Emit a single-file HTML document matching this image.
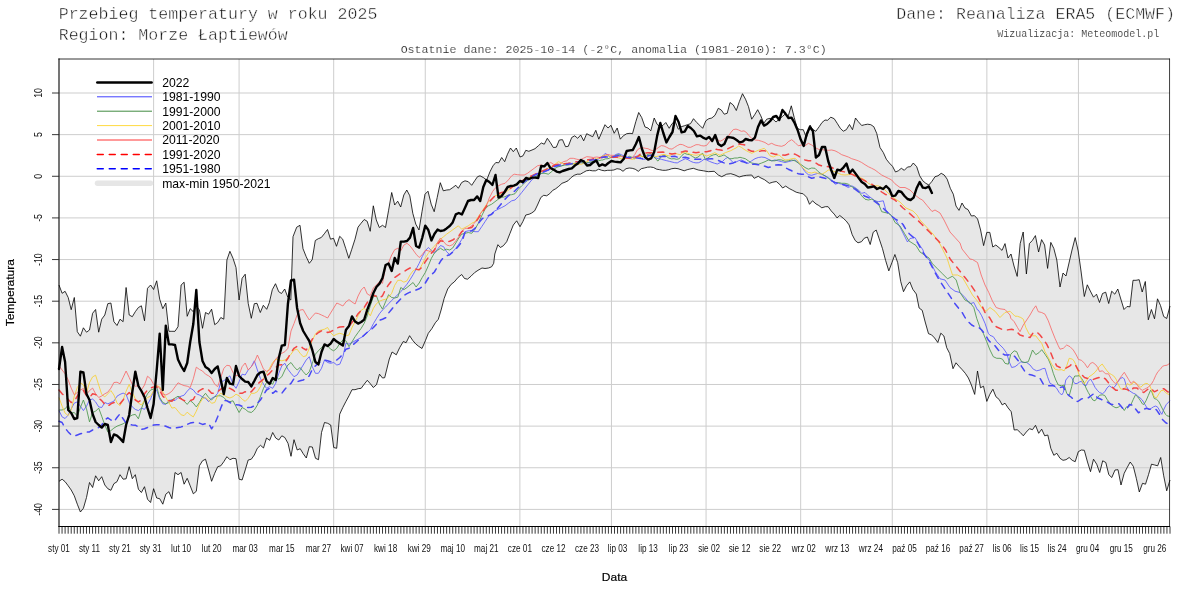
<!DOCTYPE html>
<html><head><meta charset="utf-8"><title>Przebieg temperatury</title>
<style>html,body{margin:0;padding:0;background:#fff;overflow:hidden}svg{font-family:"Liberation Sans",sans-serif}</style></head>
<body>
<svg width="1200" height="600" viewBox="0 0 1200 600" style="display:block;will-change:transform">
<rect width="1200" height="600" fill="#fff"/>
<path d="M59.0 285.0 L62.1 293.3 L65.1 291.3 L68.2 297.5 L71.2 309.7 L74.3 297.5 L77.3 331.7 L80.4 336.2 L83.4 327.8 L86.5 332.2 L89.5 330.0 L92.6 313.3 L95.6 309.5 L98.7 332.2 L101.7 319.2 L104.8 315.0 L107.8 303.7 L110.9 303.0 L113.9 321.7 L117.0 325.5 L120.0 319.2 L123.1 321.7 L126.1 287.5 L129.2 315.0 L132.3 316.7 L135.3 311.7 L138.4 307.5 L141.4 305.8 L144.5 320.8 L147.5 288.3 L150.6 285.0 L153.6 289.5 L156.7 280.8 L159.7 299.2 L162.8 308.7 L165.8 303.0 L168.9 331.3 L171.9 331.3 L175.0 331.3 L178.0 326.7 L181.1 285.0 L184.1 282.2 L187.2 316.3 L190.2 308.7 L193.3 311.7 L196.3 305.8 L199.4 310.0 L202.5 328.3 L205.5 312.5 L208.6 314.2 L211.6 309.2 L214.7 324.7 L217.7 322.5 L220.8 317.5 L223.8 319.2 L226.9 260.0 L229.9 251.3 L233.0 258.3 L236.0 267.5 L239.1 300.0 L242.1 278.3 L245.2 274.2 L248.2 303.3 L251.3 318.3 L254.3 303.7 L257.0 303.3 L260.3 312.5 L263.3 305.3 L266.7 309.3 L269.3 302.7 L272.3 289.7 L275.5 283.7 L278.7 291.7 L281.5 293.5 L284.7 289.0 L287.7 297.0 L290.8 300.0 L293.0 236.7 L296.7 227.2 L300.0 225.3 L303.0 248.7 L306.2 256.7 L309.3 263.3 L312.2 259.7 L315.3 240.5 L318.3 238.7 L321.3 237.5 L324.3 233.8 L327.5 229.5 L330.5 239.2 L333.5 238.3 L336.5 246.3 L339.7 236.3 L342.7 239.2 L345.8 248.7 L348.8 258.3 L351.8 249.2 L355.0 239.2 L358.0 227.2 L361.0 223.3 L364.2 219.5 L367.2 221.3 L370.2 231.3 L373.3 205.8 L376.3 220.0 L379.3 227.5 L382.5 225.3 L385.5 227.5 L388.5 210.8 L391.7 192.5 L394.7 205.0 L397.7 201.2 L400.7 207.0 L403.8 195.0 L406.8 190.0 L409.8 195.8 L412.8 213.3 L415.8 224.2 L419.0 230.0 L422.0 211.7 L425.0 194.2 L428.0 191.2 L431.2 204.2 L434.2 211.7 L437.2 197.5 L440.3 182.7 L443.3 190.8 L446.7 190.0 L449.7 189.7 L452.8 187.5 L455.8 185.3 L458.3 188.3 L461.7 182.5 L465.0 180.8 L468.3 181.7 L471.7 185.3 L474.7 180.8 L477.5 176.7 L480.0 175.8 L483.3 177.5 L486.7 180.0 L490.0 171.7 L493.0 165.8 L495.8 162.5 L498.7 162.8 L501.7 157.5 L504.7 161.7 L507.5 154.2 L510.5 148.0 L513.3 151.7 L516.3 148.0 L520.0 157.0 L523.0 155.8 L525.8 150.3 L528.8 151.3 L532.0 150.0 L535.0 148.7 L538.3 145.8 L541.3 143.0 L544.3 144.2 L547.3 138.3 L550.3 142.5 L553.3 147.5 L556.3 147.2 L559.3 140.0 L562.5 139.7 L565.5 146.7 L568.3 146.3 L571.7 137.5 L574.7 135.8 L577.7 138.3 L580.7 135.0 L583.7 140.8 L586.7 133.7 L589.7 135.3 L592.7 136.7 L595.8 130.3 L598.8 139.2 L602.0 131.7 L605.0 124.7 L608.0 128.0 L611.0 125.3 L614.2 133.3 L617.2 128.0 L620.3 139.2 L623.3 135.8 L626.7 133.7 L630.0 133.3 L632.5 133.7 L635.8 121.7 L638.7 112.5 L641.7 117.5 L645.0 127.0 L648.0 128.0 L650.8 130.8 L654.2 118.0 L657.0 124.2 L660.0 127.0 L663.0 125.3 L665.8 122.5 L669.2 128.3 L672.0 123.7 L675.0 120.8 L678.3 129.2 L681.3 126.7 L684.3 125.8 L687.5 124.7 L690.5 123.7 L693.5 118.7 L696.7 122.5 L699.7 125.3 L702.7 128.3 L705.8 120.8 L708.8 118.7 L711.8 118.0 L715.0 115.3 L718.3 108.3 L721.3 110.0 L724.2 114.2 L727.2 113.3 L730.0 102.5 L733.3 105.0 L736.3 110.5 L739.3 101.7 L742.5 93.7 L745.5 99.2 L748.5 106.7 L751.7 119.2 L754.7 114.7 L757.7 109.7 L760.8 115.8 L763.8 123.3 L766.7 119.2 L770.0 118.3 L773.0 119.2 L776.0 122.0 L779.2 119.2 L782.2 116.7 L785.0 114.2 L788.3 115.8 L791.3 105.8 L794.2 117.5 L797.2 128.3 L800.3 129.7 L803.3 129.7 L806.3 137.5 L809.5 128.3 L810.0 125.0 L812.5 129.2 L815.8 131.3 L819.2 126.7 L822.0 122.5 L825.0 120.0 L827.5 120.3 L830.8 117.2 L834.2 118.7 L837.2 123.3 L840.3 128.3 L843.3 131.2 L846.3 129.7 L849.5 124.5 L852.5 129.7 L855.5 118.0 L858.3 121.7 L861.7 125.5 L864.7 124.7 L867.7 124.2 L870.8 124.7 L873.8 126.7 L876.7 133.3 L880.0 147.5 L883.3 152.5 L886.3 159.2 L889.3 163.0 L892.5 166.3 L895.5 172.0 L898.3 170.8 L901.3 168.3 L904.3 170.3 L907.5 167.0 L910.5 166.7 L913.3 163.0 L916.7 166.7 L919.7 175.8 L922.8 180.8 L925.8 183.3 L928.8 185.0 L931.7 181.7 L935.0 176.7 L938.0 175.8 L941.2 173.3 L944.2 175.0 L947.2 179.2 L950.3 188.3 L953.3 194.2 L956.0 206.0 L959.0 210.4 L962.0 203.0 L965.0 208.0 L968.0 209.6 L971.4 216.0 L974.4 215.6 L977.6 219.0 L980.6 230.0 L983.6 245.6 L986.8 232.4 L989.8 232.4 L992.8 247.0 L995.8 245.0 L999.0 247.6 L1002.0 250.4 L1005.0 243.6 L1008.0 258.0 L1011.0 254.0 L1014.0 266.0 L1017.2 276.4 L1020.2 243.6 L1023.2 232.0 L1026.4 274.0 L1029.4 243.6 L1032.4 240.4 L1035.4 235.6 L1038.6 252.0 L1041.6 239.6 L1044.6 245.0 L1047.6 268.4 L1050.8 242.4 L1053.8 248.4 L1056.8 260.0 L1060.0 287.0 L1063.0 273.0 L1066.0 276.0 L1069.0 263.0 L1072.0 250.0 L1075.2 237.6 L1078.2 251.0 L1081.0 271.0 L1084.3 296.5 L1087.3 284.8 L1090.3 291.0 L1093.5 297.2 L1096.5 294.2 L1099.5 302.5 L1102.5 293.5 L1105.7 292.2 L1108.7 303.5 L1111.7 291.2 L1114.8 294.2 L1117.8 289.0 L1120.8 299.0 L1124.0 309.5 L1127.0 306.5 L1130.0 306.8 L1133.0 280.3 L1136.0 280.3 L1139.2 279.7 L1142.2 292.0 L1145.3 281.5 L1148.3 319.8 L1151.4 309.5 L1154.5 318.8 L1157.5 298.8 L1160.5 305.5 L1163.7 316.5 L1166.7 318.5 L1170.0 306.0 L1170.0 480.0 L1166.7 490.8 L1163.7 475.8 L1160.7 457.5 L1157.7 465.8 L1154.7 465.0 L1151.5 464.2 L1148.5 474.7 L1145.5 484.2 L1142.5 483.3 L1139.3 492.0 L1136.3 478.3 L1133.3 466.3 L1130.2 462.0 L1127.2 467.5 L1124.2 473.3 L1121.0 485.0 L1118.0 469.7 L1115.0 470.0 L1111.8 477.5 L1108.8 474.7 L1105.8 462.5 L1102.7 460.8 L1099.7 472.5 L1096.7 464.2 L1093.5 459.2 L1090.5 471.7 L1087.5 462.0 L1084.3 450.3 L1081.3 450.0 L1078.3 451.7 L1075.2 461.7 L1072.2 460.3 L1069.2 457.5 L1066.0 459.7 L1063.0 460.3 L1060.0 458.3 L1056.8 453.3 L1053.8 455.3 L1050.8 448.3 L1047.8 435.0 L1044.7 435.8 L1041.7 429.2 L1038.7 433.3 L1035.5 425.3 L1032.5 429.7 L1029.5 428.7 L1026.3 432.0 L1023.3 435.8 L1020.3 432.5 L1017.2 429.7 L1014.2 430.0 L1011.2 411.7 L1008.1 407.9 L1005.0 403.2 L1002.2 404.9 L999.2 399.5 L995.9 396.7 L992.9 389.2 L989.8 394.4 L986.8 401.4 L983.5 386.2 L980.5 387.8 L977.5 371.0 L974.7 394.4 L971.4 385.0 L968.4 378.0 L965.3 373.3 L962.3 369.8 L959.0 366.3 L956.0 362.8 L953.0 368.7 L949.7 353.5 L946.7 347.7 L943.9 336.0 L940.8 333.2 L937.8 342.5 L934.5 337.9 L931.5 334.8 L928.5 333.7 L925.2 322.0 L922.2 310.3 L919.1 308.0 L916.3 294.0 L912.8 289.3 L909.8 281.9 L906.5 285.8 L903.5 291.7 L900.7 281.4 L897.7 262.7 L894.9 254.5 L891.9 262.7 L888.8 270.9 L885.6 260.4 L882.5 248.7 L879.0 238.2 L876.2 230.0 L873.2 232.3 L870.2 244.5 L867.4 237.0 L864.3 238.2 L861.5 241.7 L858.0 242.8 L855.2 240.5 L852.2 234.7 L849.1 224.9 L846.3 221.1 L843.3 218.3 L839.8 215.5 L837.0 217.9 L834.2 214.1 L831.2 210.9 L828.1 206.7 L825.3 206.7 L821.8 207.8 L818.8 205.5 L816.0 203.9 L812.5 200.8 L809.5 204.3 L806.7 197.3 L803.2 193.8 L799.7 193.1 L796.2 192.2 L792.7 190.3 L789.2 188.5 L785.7 186.1 L782.6 188.0 L779.8 184.5 L776.3 181.5 L772.8 182.2 L769.3 183.3 L764.7 179.8 L760.0 177.5 L758.3 176.3 L754.2 178.3 L751.7 175.0 L746.7 175.3 L743.3 175.8 L739.2 177.0 L735.0 175.0 L730.8 173.7 L726.7 174.2 L721.7 176.7 L718.3 175.0 L714.2 171.3 L708.3 171.7 L703.3 170.8 L698.3 170.0 L693.3 168.3 L689.2 169.2 L687.2 169.7 L684.2 170.8 L681.0 169.7 L678.0 168.7 L675.0 168.3 L671.8 168.7 L668.8 169.7 L665.8 170.3 L662.7 170.3 L659.7 169.7 L656.7 169.2 L653.5 167.5 L650.5 167.0 L647.5 167.2 L644.3 168.0 L641.3 168.7 L638.3 171.3 L635.2 169.2 L632.2 168.3 L629.2 168.0 L626.0 168.7 L623.0 171.3 L620.0 169.2 L617.0 168.7 L613.8 170.0 L610.8 170.3 L607.7 170.3 L604.7 170.8 L601.7 170.3 L598.7 169.2 L595.5 170.8 L592.5 170.8 L589.5 170.3 L586.3 170.8 L583.3 172.5 L580.3 174.2 L577.2 174.2 L574.2 175.3 L571.2 177.5 L568.0 180.8 L565.0 182.2 L562.0 183.3 L558.8 186.3 L555.8 188.7 L552.8 190.3 L549.7 193.7 L546.7 195.8 L543.7 195.3 L540.8 197.5 L537.5 205.0 L534.7 210.8 L531.7 213.0 L529.2 214.2 L525.8 215.0 L522.8 221.7 L520.0 226.7 L516.7 220.8 L513.3 225.0 L510.0 233.3 L506.7 241.7 L503.3 245.8 L500.3 247.5 L497.9 244.7 L494.8 254.0 L493.7 263.3 L491.6 266.8 L488.5 268.0 L485.0 268.5 L482.0 268.0 L478.0 270.3 L474.5 272.7 L471.0 276.2 L467.5 279.2 L464.5 278.5 L461.7 274.5 L458.2 277.3 L454.2 282.0 L451.2 284.3 L447.7 289.0 L444.2 298.3 L441.1 310.0 L438.3 319.3 L435.3 322.8 L431.8 328.7 L428.3 333.3 L425.5 340.4 L422.0 348.5 L418.5 346.2 L415.7 343.9 L412.7 340.4 L409.6 335.7 L406.1 342.7 L403.3 341.5 L399.8 347.4 L396.3 354.8 L392.1 352.0 L389.3 359.0 L384.7 377.7 L382.5 378.0 L379.5 374.2 L376.5 384.7 L373.3 387.5 L370.3 383.7 L367.3 380.3 L364.2 384.2 L361.2 388.3 L358.2 388.7 L355.0 389.7 L352.0 389.7 L349.0 395.8 L345.8 401.7 L342.8 407.5 L339.7 414.2 L336.7 448.3 L333.7 447.5 L330.7 425.0 L327.7 423.3 L324.5 422.5 L321.5 432.5 L318.5 459.7 L315.5 458.3 L312.3 447.0 L309.3 446.7 L306.3 458.0 L303.2 453.7 L300.2 448.7 L297.2 450.0 L294.0 439.7 L291.0 456.3 L288.0 443.3 L284.8 437.5 L281.8 435.8 L278.8 440.0 L275.7 438.0 L272.7 432.5 L269.7 440.3 L266.5 438.0 L263.5 448.0 L260.5 445.3 L257.3 448.3 L254.3 455.0 L251.3 459.2 L248.2 460.0 L245.2 470.0 L242.1 480.0 L239.1 479.2 L236.0 458.7 L233.0 458.3 L229.9 459.7 L226.9 456.7 L223.8 461.7 L220.8 465.8 L217.7 466.7 L214.7 473.3 L211.6 481.3 L208.6 470.0 L205.5 459.2 L202.5 460.8 L199.4 465.8 L196.3 491.3 L193.3 493.8 L190.2 485.8 L187.2 478.3 L184.1 484.2 L181.1 472.5 L178.0 474.7 L175.0 472.5 L171.9 498.7 L168.9 491.7 L165.8 494.2 L162.8 504.2 L159.7 498.7 L156.7 498.0 L153.6 488.7 L150.6 502.5 L147.5 499.2 L144.5 486.7 L141.4 492.5 L138.4 489.2 L135.3 474.7 L132.3 478.7 L129.2 466.7 L126.1 478.8 L123.1 479.2 L120.0 474.7 L117.0 481.7 L113.9 483.7 L110.9 490.3 L107.8 488.7 L104.8 485.0 L101.7 476.7 L98.7 480.8 L95.6 475.8 L92.6 487.5 L89.5 482.5 L86.5 497.5 L83.4 508.3 L80.4 512.0 L77.3 504.2 L74.3 495.8 L71.2 490.0 L68.2 485.8 L65.1 481.7 L62.1 479.2 L59.0 481.3Z" fill="#e7e7e7" stroke="none"/>
<path d="M153.62 59.0 V526.5 M239.08 59.0 V526.5 M333.70 59.0 V526.5 M425.26 59.0 V526.5 M519.88 59.0 V526.5 M611.45 59.0 V526.5 M706.07 59.0 V526.5 M800.68 59.0 V526.5 M892.25 59.0 V526.5 M986.87 59.0 V526.5 M1078.43 59.0 V526.5 M59.0 509.40 H1170.0 M59.0 467.76 H1170.0 M59.0 426.12 H1170.0 M59.0 384.48 H1170.0 M59.0 342.84 H1170.0 M59.0 301.20 H1170.0 M59.0 259.56 H1170.0 M59.0 217.92 H1170.0 M59.0 176.28 H1170.0 M59.0 134.64 H1170.0 M59.0 93.00 H1170.0" stroke="#cdcdcd" stroke-width="1" fill="none"/>
<path d="M59.0 285.0 L62.1 293.3 L65.1 291.3 L68.2 297.5 L71.2 309.7 L74.3 297.5 L77.3 331.7 L80.4 336.2 L83.4 327.8 L86.5 332.2 L89.5 330.0 L92.6 313.3 L95.6 309.5 L98.7 332.2 L101.7 319.2 L104.8 315.0 L107.8 303.7 L110.9 303.0 L113.9 321.7 L117.0 325.5 L120.0 319.2 L123.1 321.7 L126.1 287.5 L129.2 315.0 L132.3 316.7 L135.3 311.7 L138.4 307.5 L141.4 305.8 L144.5 320.8 L147.5 288.3 L150.6 285.0 L153.6 289.5 L156.7 280.8 L159.7 299.2 L162.8 308.7 L165.8 303.0 L168.9 331.3 L171.9 331.3 L175.0 331.3 L178.0 326.7 L181.1 285.0 L184.1 282.2 L187.2 316.3 L190.2 308.7 L193.3 311.7 L196.3 305.8 L199.4 310.0 L202.5 328.3 L205.5 312.5 L208.6 314.2 L211.6 309.2 L214.7 324.7 L217.7 322.5 L220.8 317.5 L223.8 319.2 L226.9 260.0 L229.9 251.3 L233.0 258.3 L236.0 267.5 L239.1 300.0 L242.1 278.3 L245.2 274.2 L248.2 303.3 L251.3 318.3 L254.3 303.7 L257.0 303.3 L260.3 312.5 L263.3 305.3 L266.7 309.3 L269.3 302.7 L272.3 289.7 L275.5 283.7 L278.7 291.7 L281.5 293.5 L284.7 289.0 L287.7 297.0 L290.8 300.0 L293.0 236.7 L296.7 227.2 L300.0 225.3 L303.0 248.7 L306.2 256.7 L309.3 263.3 L312.2 259.7 L315.3 240.5 L318.3 238.7 L321.3 237.5 L324.3 233.8 L327.5 229.5 L330.5 239.2 L333.5 238.3 L336.5 246.3 L339.7 236.3 L342.7 239.2 L345.8 248.7 L348.8 258.3 L351.8 249.2 L355.0 239.2 L358.0 227.2 L361.0 223.3 L364.2 219.5 L367.2 221.3 L370.2 231.3 L373.3 205.8 L376.3 220.0 L379.3 227.5 L382.5 225.3 L385.5 227.5 L388.5 210.8 L391.7 192.5 L394.7 205.0 L397.7 201.2 L400.7 207.0 L403.8 195.0 L406.8 190.0 L409.8 195.8 L412.8 213.3 L415.8 224.2 L419.0 230.0 L422.0 211.7 L425.0 194.2 L428.0 191.2 L431.2 204.2 L434.2 211.7 L437.2 197.5 L440.3 182.7 L443.3 190.8 L446.7 190.0 L449.7 189.7 L452.8 187.5 L455.8 185.3 L458.3 188.3 L461.7 182.5 L465.0 180.8 L468.3 181.7 L471.7 185.3 L474.7 180.8 L477.5 176.7 L480.0 175.8 L483.3 177.5 L486.7 180.0 L490.0 171.7 L493.0 165.8 L495.8 162.5 L498.7 162.8 L501.7 157.5 L504.7 161.7 L507.5 154.2 L510.5 148.0 L513.3 151.7 L516.3 148.0 L520.0 157.0 L523.0 155.8 L525.8 150.3 L528.8 151.3 L532.0 150.0 L535.0 148.7 L538.3 145.8 L541.3 143.0 L544.3 144.2 L547.3 138.3 L550.3 142.5 L553.3 147.5 L556.3 147.2 L559.3 140.0 L562.5 139.7 L565.5 146.7 L568.3 146.3 L571.7 137.5 L574.7 135.8 L577.7 138.3 L580.7 135.0 L583.7 140.8 L586.7 133.7 L589.7 135.3 L592.7 136.7 L595.8 130.3 L598.8 139.2 L602.0 131.7 L605.0 124.7 L608.0 128.0 L611.0 125.3 L614.2 133.3 L617.2 128.0 L620.3 139.2 L623.3 135.8 L626.7 133.7 L630.0 133.3 L632.5 133.7 L635.8 121.7 L638.7 112.5 L641.7 117.5 L645.0 127.0 L648.0 128.0 L650.8 130.8 L654.2 118.0 L657.0 124.2 L660.0 127.0 L663.0 125.3 L665.8 122.5 L669.2 128.3 L672.0 123.7 L675.0 120.8 L678.3 129.2 L681.3 126.7 L684.3 125.8 L687.5 124.7 L690.5 123.7 L693.5 118.7 L696.7 122.5 L699.7 125.3 L702.7 128.3 L705.8 120.8 L708.8 118.7 L711.8 118.0 L715.0 115.3 L718.3 108.3 L721.3 110.0 L724.2 114.2 L727.2 113.3 L730.0 102.5 L733.3 105.0 L736.3 110.5 L739.3 101.7 L742.5 93.7 L745.5 99.2 L748.5 106.7 L751.7 119.2 L754.7 114.7 L757.7 109.7 L760.8 115.8 L763.8 123.3 L766.7 119.2 L770.0 118.3 L773.0 119.2 L776.0 122.0 L779.2 119.2 L782.2 116.7 L785.0 114.2 L788.3 115.8 L791.3 105.8 L794.2 117.5 L797.2 128.3 L800.3 129.7 L803.3 129.7 L806.3 137.5 L809.5 128.3 L810.0 125.0 L812.5 129.2 L815.8 131.3 L819.2 126.7 L822.0 122.5 L825.0 120.0 L827.5 120.3 L830.8 117.2 L834.2 118.7 L837.2 123.3 L840.3 128.3 L843.3 131.2 L846.3 129.7 L849.5 124.5 L852.5 129.7 L855.5 118.0 L858.3 121.7 L861.7 125.5 L864.7 124.7 L867.7 124.2 L870.8 124.7 L873.8 126.7 L876.7 133.3 L880.0 147.5 L883.3 152.5 L886.3 159.2 L889.3 163.0 L892.5 166.3 L895.5 172.0 L898.3 170.8 L901.3 168.3 L904.3 170.3 L907.5 167.0 L910.5 166.7 L913.3 163.0 L916.7 166.7 L919.7 175.8 L922.8 180.8 L925.8 183.3 L928.8 185.0 L931.7 181.7 L935.0 176.7 L938.0 175.8 L941.2 173.3 L944.2 175.0 L947.2 179.2 L950.3 188.3 L953.3 194.2 L956.0 206.0 L959.0 210.4 L962.0 203.0 L965.0 208.0 L968.0 209.6 L971.4 216.0 L974.4 215.6 L977.6 219.0 L980.6 230.0 L983.6 245.6 L986.8 232.4 L989.8 232.4 L992.8 247.0 L995.8 245.0 L999.0 247.6 L1002.0 250.4 L1005.0 243.6 L1008.0 258.0 L1011.0 254.0 L1014.0 266.0 L1017.2 276.4 L1020.2 243.6 L1023.2 232.0 L1026.4 274.0 L1029.4 243.6 L1032.4 240.4 L1035.4 235.6 L1038.6 252.0 L1041.6 239.6 L1044.6 245.0 L1047.6 268.4 L1050.8 242.4 L1053.8 248.4 L1056.8 260.0 L1060.0 287.0 L1063.0 273.0 L1066.0 276.0 L1069.0 263.0 L1072.0 250.0 L1075.2 237.6 L1078.2 251.0 L1081.0 271.0 L1084.3 296.5 L1087.3 284.8 L1090.3 291.0 L1093.5 297.2 L1096.5 294.2 L1099.5 302.5 L1102.5 293.5 L1105.7 292.2 L1108.7 303.5 L1111.7 291.2 L1114.8 294.2 L1117.8 289.0 L1120.8 299.0 L1124.0 309.5 L1127.0 306.5 L1130.0 306.8 L1133.0 280.3 L1136.0 280.3 L1139.2 279.7 L1142.2 292.0 L1145.3 281.5 L1148.3 319.8 L1151.4 309.5 L1154.5 318.8 L1157.5 298.8 L1160.5 305.5 L1163.7 316.5 L1166.7 318.5 L1170.0 306.0" fill="none" stroke="#000" stroke-width="0.8" stroke-linejoin="round"/>
<path d="M59.0 481.3 L62.1 479.2 L65.1 481.7 L68.2 485.8 L71.2 490.0 L74.3 495.8 L77.3 504.2 L80.4 512.0 L83.4 508.3 L86.5 497.5 L89.5 482.5 L92.6 487.5 L95.6 475.8 L98.7 480.8 L101.7 476.7 L104.8 485.0 L107.8 488.7 L110.9 490.3 L113.9 483.7 L117.0 481.7 L120.0 474.7 L123.1 479.2 L126.1 478.8 L129.2 466.7 L132.3 478.7 L135.3 474.7 L138.4 489.2 L141.4 492.5 L144.5 486.7 L147.5 499.2 L150.6 502.5 L153.6 488.7 L156.7 498.0 L159.7 498.7 L162.8 504.2 L165.8 494.2 L168.9 491.7 L171.9 498.7 L175.0 472.5 L178.0 474.7 L181.1 472.5 L184.1 484.2 L187.2 478.3 L190.2 485.8 L193.3 493.8 L196.3 491.3 L199.4 465.8 L202.5 460.8 L205.5 459.2 L208.6 470.0 L211.6 481.3 L214.7 473.3 L217.7 466.7 L220.8 465.8 L223.8 461.7 L226.9 456.7 L229.9 459.7 L233.0 458.3 L236.0 458.7 L239.1 479.2 L242.1 480.0 L245.2 470.0 L248.2 460.0 L251.3 459.2 L254.3 455.0 L257.3 448.3 L260.5 445.3 L263.5 448.0 L266.5 438.0 L269.7 440.3 L272.7 432.5 L275.7 438.0 L278.8 440.0 L281.8 435.8 L284.8 437.5 L288.0 443.3 L291.0 456.3 L294.0 439.7 L297.2 450.0 L300.2 448.7 L303.2 453.7 L306.3 458.0 L309.3 446.7 L312.3 447.0 L315.5 458.3 L318.5 459.7 L321.5 432.5 L324.5 422.5 L327.7 423.3 L330.7 425.0 L333.7 447.5 L336.7 448.3 L339.7 414.2 L342.8 407.5 L345.8 401.7 L349.0 395.8 L352.0 389.7 L355.0 389.7 L358.2 388.7 L361.2 388.3 L364.2 384.2 L367.3 380.3 L370.3 383.7 L373.3 387.5 L376.5 384.7 L379.5 374.2 L382.5 378.0 L384.7 377.7 L389.3 359.0 L392.1 352.0 L396.3 354.8 L399.8 347.4 L403.3 341.5 L406.1 342.7 L409.6 335.7 L412.7 340.4 L415.7 343.9 L418.5 346.2 L422.0 348.5 L425.5 340.4 L428.3 333.3 L431.8 328.7 L435.3 322.8 L438.3 319.3 L441.1 310.0 L444.2 298.3 L447.7 289.0 L451.2 284.3 L454.2 282.0 L458.2 277.3 L461.7 274.5 L464.5 278.5 L467.5 279.2 L471.0 276.2 L474.5 272.7 L478.0 270.3 L482.0 268.0 L485.0 268.5 L488.5 268.0 L491.6 266.8 L493.7 263.3 L494.8 254.0 L497.9 244.7 L500.3 247.5 L503.3 245.8 L506.7 241.7 L510.0 233.3 L513.3 225.0 L516.7 220.8 L520.0 226.7 L522.8 221.7 L525.8 215.0 L529.2 214.2 L531.7 213.0 L534.7 210.8 L537.5 205.0 L540.8 197.5 L543.7 195.3 L546.7 195.8 L549.7 193.7 L552.8 190.3 L555.8 188.7 L558.8 186.3 L562.0 183.3 L565.0 182.2 L568.0 180.8 L571.2 177.5 L574.2 175.3 L577.2 174.2 L580.3 174.2 L583.3 172.5 L586.3 170.8 L589.5 170.3 L592.5 170.8 L595.5 170.8 L598.7 169.2 L601.7 170.3 L604.7 170.8 L607.7 170.3 L610.8 170.3 L613.8 170.0 L617.0 168.7 L620.0 169.2 L623.0 171.3 L626.0 168.7 L629.2 168.0 L632.2 168.3 L635.2 169.2 L638.3 171.3 L641.3 168.7 L644.3 168.0 L647.5 167.2 L650.5 167.0 L653.5 167.5 L656.7 169.2 L659.7 169.7 L662.7 170.3 L665.8 170.3 L668.8 169.7 L671.8 168.7 L675.0 168.3 L678.0 168.7 L681.0 169.7 L684.2 170.8 L687.2 169.7 L689.2 169.2 L693.3 168.3 L698.3 170.0 L703.3 170.8 L708.3 171.7 L714.2 171.3 L718.3 175.0 L721.7 176.7 L726.7 174.2 L730.8 173.7 L735.0 175.0 L739.2 177.0 L743.3 175.8 L746.7 175.3 L751.7 175.0 L754.2 178.3 L758.3 176.3 L760.0 177.5 L764.7 179.8 L769.3 183.3 L772.8 182.2 L776.3 181.5 L779.8 184.5 L782.6 188.0 L785.7 186.1 L789.2 188.5 L792.7 190.3 L796.2 192.2 L799.7 193.1 L803.2 193.8 L806.7 197.3 L809.5 204.3 L812.5 200.8 L816.0 203.9 L818.8 205.5 L821.8 207.8 L825.3 206.7 L828.1 206.7 L831.2 210.9 L834.2 214.1 L837.0 217.9 L839.8 215.5 L843.3 218.3 L846.3 221.1 L849.1 224.9 L852.2 234.7 L855.2 240.5 L858.0 242.8 L861.5 241.7 L864.3 238.2 L867.4 237.0 L870.2 244.5 L873.2 232.3 L876.2 230.0 L879.0 238.2 L882.5 248.7 L885.6 260.4 L888.8 270.9 L891.9 262.7 L894.9 254.5 L897.7 262.7 L900.7 281.4 L903.5 291.7 L906.5 285.8 L909.8 281.9 L912.8 289.3 L916.3 294.0 L919.1 308.0 L922.2 310.3 L925.2 322.0 L928.5 333.7 L931.5 334.8 L934.5 337.9 L937.8 342.5 L940.8 333.2 L943.9 336.0 L946.7 347.7 L949.7 353.5 L953.0 368.7 L956.0 362.8 L959.0 366.3 L962.3 369.8 L965.3 373.3 L968.4 378.0 L971.4 385.0 L974.7 394.4 L977.5 371.0 L980.5 387.8 L983.5 386.2 L986.8 401.4 L989.8 394.4 L992.9 389.2 L995.9 396.7 L999.2 399.5 L1002.2 404.9 L1005.0 403.2 L1008.1 407.9 L1011.2 411.7 L1014.2 430.0 L1017.2 429.7 L1020.3 432.5 L1023.3 435.8 L1026.3 432.0 L1029.5 428.7 L1032.5 429.7 L1035.5 425.3 L1038.7 433.3 L1041.7 429.2 L1044.7 435.8 L1047.8 435.0 L1050.8 448.3 L1053.8 455.3 L1056.8 453.3 L1060.0 458.3 L1063.0 460.3 L1066.0 459.7 L1069.2 457.5 L1072.2 460.3 L1075.2 461.7 L1078.3 451.7 L1081.3 450.0 L1084.3 450.3 L1087.5 462.0 L1090.5 471.7 L1093.5 459.2 L1096.7 464.2 L1099.7 472.5 L1102.7 460.8 L1105.8 462.5 L1108.8 474.7 L1111.8 477.5 L1115.0 470.0 L1118.0 469.7 L1121.0 485.0 L1124.2 473.3 L1127.2 467.5 L1130.2 462.0 L1133.3 466.3 L1136.3 478.3 L1139.3 492.0 L1142.5 483.3 L1145.5 484.2 L1148.5 474.7 L1151.5 464.2 L1154.7 465.0 L1157.7 465.8 L1160.7 457.5 L1163.7 475.8 L1166.7 490.8 L1170.0 480.0" fill="none" stroke="#000" stroke-width="0.8" stroke-linejoin="round"/>
<path d="M59.0 410.6 L62.1 416.9 L65.1 418.5 L68.2 415.0 L71.2 408.8 L74.3 403.1 L77.3 401.9 L80.4 406.2 L83.4 410.6 L86.5 406.2 L89.5 400.0 L92.6 399.0 L95.6 401.9 L98.7 406.9 L101.7 407.5 L104.8 402.5 L107.8 403.8 L110.9 402.5 L113.9 401.2 L117.0 396.2 L120.0 394.4 L123.1 393.1 L126.1 394.4 L129.2 402.5 L132.3 406.9 L135.3 409.4 L138.4 410.6 L141.4 408.1 L144.5 409.4 L147.5 404.4 L150.6 398.8 L153.6 391.2 L156.7 390.0 L159.7 398.8 L162.8 403.8 L165.8 404.4 L168.9 400.6 L171.9 399.8 L175.0 400.6 L178.0 397.5 L181.1 396.2 L184.1 395.2 L187.2 391.2 L190.2 388.1 L193.3 390.0 L196.3 393.8 L199.4 395.0 L202.5 396.9 L205.5 398.3 L208.6 401.7 L211.6 398.3 L214.7 396.7 L217.7 393.3 L220.8 381.7 L223.8 380.8 L226.9 378.3 L229.9 375.8 L233.0 384.2 L236.0 388.3 L239.1 381.7 L242.1 374.2 L245.2 375.0 L248.2 370.0 L251.3 366.7 L254.3 360.8 L257.4 370.0 L260.4 378.3 L263.5 384.2 L266.5 388.3 L269.6 386.7 L272.7 388.3 L275.7 383.3 L278.8 373.3 L281.8 365.8 L284.9 363.3 L287.9 369.2 L291.0 373.3 L294.0 376.7 L297.1 375.0 L300.1 370.0 L303.2 365.0 L306.2 360.0 L309.3 356.7 L312.3 366.7 L315.4 373.3 L318.4 373.3 L321.5 368.3 L324.5 360.0 L327.6 362.5 L330.6 363.3 L333.7 362.5 L336.8 365.0 L339.8 364.2 L342.9 356.7 L345.9 343.3 L349.0 344.2 L364.2 335.8 L367.3 332.5 L370.3 329.7 L373.4 323.7 L376.4 318.7 L379.5 313.7 L382.5 310.0 L385.6 307.0 L388.6 303.7 L391.7 300.5 L394.7 297.5 L397.8 294.7 L400.8 291.7 L403.9 288.0 L407.0 284.2 L410.0 279.7 L413.1 274.7 L416.1 269.2 L419.2 263.3 L422.2 256.7 L425.3 250.8 L428.3 247.5 L431.4 250.5 L434.4 253.0 L437.5 249.2 L440.5 245.5 L443.6 246.7 L446.6 251.7 L449.7 254.7 L452.7 251.7 L455.8 248.3 L458.8 244.2 L461.9 239.2 L465.0 231.7 L468.3 230.8 L471.7 230.8 L475.0 231.7 L478.3 231.7 L481.7 226.7 L485.0 221.7 L488.3 216.7 L491.7 213.3 L495.0 210.8 L498.3 209.2 L501.7 207.5 L505.0 205.8 L508.3 203.3 L511.7 200.8 L515.0 200.0 L518.3 196.7 L521.7 192.5 L525.0 188.3 L528.3 184.2 L531.7 180.0 L535.0 177.5 L538.3 175.0 L541.7 173.3 L545.0 171.7 L548.3 170.0 L551.7 167.5 L555.0 165.8 L558.3 166.7 L561.7 165.8 L565.0 164.2 L568.3 163.3 L571.7 164.2 L575.0 163.3 L578.3 162.5 L581.7 163.0 L585.0 163.7 L588.3 163.0 L591.7 162.0 L595.0 160.8 L598.3 159.2 L601.7 156.7 L602.7 156.0 L605.3 153.3 L608.0 155.3 L610.7 157.3 L613.3 156.0 L616.0 154.4 L618.7 153.6 L621.3 154.7 L624.0 156.0 L626.7 157.3 L629.3 158.0 L632.0 157.6 L634.7 156.7 L637.3 156.0 L640.0 157.3 L642.7 159.3 L645.3 159.3 L648.0 156.0 L650.7 154.9 L653.3 156.7 L656.0 158.0 L658.7 158.7 L661.3 159.3 L664.0 160.0 L666.7 160.7 L669.3 161.3 L672.0 162.0 L674.7 162.7 L677.3 162.9 L680.0 161.3 L682.7 160.0 L685.3 158.7 L688.0 159.7 L690.7 161.3 L693.3 162.4 L696.0 162.9 L698.7 162.7 L701.3 161.3 L704.0 159.3 L706.7 160.0 L709.3 161.3 L712.0 162.4 L714.7 163.3 L717.3 164.0 L720.0 162.7 L722.7 161.3 L725.3 158.7 L728.0 157.3 L730.7 160.0 L733.3 162.7 L736.0 162.0 L738.7 160.7 L741.3 160.0 L744.0 161.1 L746.7 162.7 L748.3 163.3 L751.7 160.8 L755.0 158.7 L758.3 157.5 L761.7 157.0 L765.0 157.5 L768.3 159.2 L771.7 160.8 L775.0 160.0 L778.3 160.8 L781.7 161.7 L785.0 162.5 L788.3 161.7 L791.7 160.8 L795.0 160.0 L798.3 162.5 L801.7 166.7 L805.0 171.7 L808.3 174.7 L811.7 175.3 L815.0 174.2 L818.3 173.3 L821.7 174.2 L825.0 175.8 L828.3 177.5 L831.7 180.0 L835.0 184.2 L838.3 183.3 L841.7 184.2 L845.0 185.8 L848.3 187.5 L851.7 185.8 L855.0 187.5 L858.3 190.0 L861.7 193.3 L865.0 192.5 L868.3 195.8 L871.7 198.3 L875.0 200.8 L878.3 201.7 L883.3 200.8 L885.8 210.0 L888.3 212.5 L891.7 215.8 L895.0 218.8 L900.0 227.0 L903.5 234.0 L907.5 242.0 L910.0 238.5 L915.0 237.5 L917.5 242.0 L923.0 250.0 L924.0 254.0 L930.0 261.2 L935.0 271.2 L940.0 278.8 L945.0 280.0 L950.0 287.5 L955.0 291.2 L960.0 292.5 L965.0 297.5 L970.0 303.8 L973.8 302.5 L977.5 310.0 L978.3 310.0 L981.7 315.8 L985.0 323.3 L988.3 333.3 L990.0 335.3 L993.3 336.7 L996.7 341.7 L1000.0 345.0 L1003.3 348.3 L1006.7 353.3 L1009.2 361.7 L1011.7 367.5 L1015.0 366.7 L1018.3 364.2 L1020.8 361.7 L1023.3 362.5 L1026.7 362.5 L1030.0 365.0 L1033.3 369.2 L1036.7 370.8 L1040.0 370.0 L1042.5 368.7 L1045.0 368.3 L1047.5 376.7 L1050.0 383.3 L1053.3 385.0 L1056.7 388.3 L1059.2 392.5 L1061.7 395.0 L1063.3 392.5 L1065.8 380.0 L1069.2 375.8 L1071.7 377.5 L1073.3 381.3 L1074.8 383.5 L1077.0 383.5 L1079.3 382.0 L1081.5 381.3 L1083.8 385.0 L1086.0 385.8 L1088.3 381.3 L1090.5 379.0 L1092.8 382.8 L1095.0 387.3 L1097.3 390.3 L1099.5 392.5 L1102.5 393.7 L1104.8 391.8 L1107.0 388.0 L1109.3 385.8 L1111.5 387.3 L1113.8 387.7 L1116.0 385.0 L1118.3 381.3 L1120.5 378.3 L1122.8 377.5 L1124.3 379.0 L1126.5 386.5 L1128.8 390.3 L1131.0 391.8 L1133.3 393.3 L1135.5 394.0 L1137.8 396.3 L1140.0 397.8 L1142.3 400.0 L1144.5 403.8 L1146.8 407.5 L1149.0 409.8 L1151.3 408.3 L1153.5 406.8 L1155.8 406.0 L1158.0 407.5 L1160.3 412.0 L1161.8 414.3 L1164.0 409.0 L1166.3 404.5 L1169.9 400.8 L1170.0 400.8" fill="none" stroke="#5858ff" stroke-width="0.85" stroke-linejoin="round"/>
<path d="M59.0 410.0 L62.1 410.0 L65.1 408.8 L68.2 405.0 L71.2 413.1 L74.3 412.5 L77.3 416.2 L80.4 407.5 L83.4 400.0 L86.5 408.8 L89.5 421.9 L92.6 412.5 L95.6 411.2 L98.7 408.1 L101.7 416.2 L104.8 425.0 L107.8 431.9 L110.9 430.6 L113.9 428.1 L117.0 426.2 L120.0 425.0 L123.1 423.8 L126.1 421.9 L129.2 416.9 L132.3 415.0 L135.3 414.4 L138.4 418.8 L141.4 408.8 L144.5 400.0 L147.5 393.8 L150.6 390.0 L153.6 389.0 L156.7 386.9 L159.7 397.5 L162.8 402.5 L165.8 403.8 L168.9 402.5 L171.9 400.0 L175.0 398.1 L178.0 396.2 L181.1 398.1 L184.1 401.2 L187.2 404.4 L190.2 400.6 L193.3 403.1 L196.3 406.9 L199.4 402.5 L202.5 396.9 L205.5 393.3 L208.6 397.5 L211.6 400.0 L214.7 396.7 L217.7 395.8 L220.8 395.8 L223.8 397.5 L226.9 400.8 L229.9 401.7 L233.0 400.8 L236.0 406.7 L239.1 412.5 L242.1 407.5 L245.2 409.2 L248.2 411.7 L251.3 412.5 L254.3 410.0 L257.4 405.0 L260.4 396.7 L263.5 388.3 L266.5 382.5 L269.6 382.5 L272.7 384.2 L275.7 376.7 L278.8 379.2 L281.8 376.7 L284.9 370.0 L287.9 365.0 L291.0 362.5 L294.0 366.7 L297.1 370.0 L300.1 367.5 L303.2 371.7 L306.2 375.0 L309.3 371.7 L312.3 363.3 L315.4 354.2 L318.4 350.8 L321.5 347.5 L324.5 345.0 L327.6 345.8 L330.6 349.2 L333.7 350.8 L336.8 348.3 L339.8 343.3 L342.9 340.0 L345.9 340.8 L349.0 346.7 L355.1 336.7 L358.1 332.5 L361.2 328.3 L364.2 323.3 L367.3 315.8 L370.3 305.8 L373.4 296.7 L376.4 295.8 L379.5 304.2 L382.5 309.2 L385.6 301.7 L388.6 294.7 L391.7 297.5 L394.7 298.0 L397.8 297.2 L400.8 287.5 L403.9 289.7 L407.0 287.5 L410.0 285.0 L413.1 282.5 L416.1 287.0 L419.2 283.0 L422.2 277.5 L425.3 272.5 L428.3 265.8 L431.4 258.3 L434.4 253.0 L437.5 250.3 L440.5 248.3 L443.6 250.3 L446.6 249.2 L449.7 250.0 L452.7 248.0 L455.8 243.0 L458.8 238.0 L461.7 234.2 L465.0 233.3 L468.3 232.5 L471.7 233.3 L475.0 229.2 L478.3 223.3 L481.7 215.8 L485.0 209.2 L488.3 205.8 L491.7 204.2 L495.0 201.7 L498.3 199.2 L501.7 197.5 L505.0 196.7 L508.3 195.0 L511.7 194.7 L515.0 193.7 L518.3 189.2 L521.7 185.8 L525.0 182.5 L528.3 180.0 L531.7 178.3 L535.0 176.7 L538.3 175.0 L541.7 173.3 L545.0 173.3 L548.3 174.2 L551.7 171.7 L555.0 168.3 L558.3 166.7 L561.7 165.8 L565.0 165.0 L568.3 165.0 L571.7 164.2 L575.0 163.3 L578.3 163.0 L581.7 162.5 L585.0 163.3 L588.3 162.5 L591.7 161.7 L595.0 160.8 L598.3 160.8 L601.7 160.0 L602.7 160.0 L605.3 158.9 L608.0 158.7 L610.7 157.6 L613.3 156.7 L616.0 155.3 L618.7 154.4 L621.3 156.0 L624.0 157.3 L626.7 158.0 L629.3 156.3 L632.0 157.3 L634.7 158.7 L637.3 156.7 L640.0 155.3 L642.7 156.7 L645.3 156.0 L648.0 154.4 L650.7 153.3 L653.3 156.0 L656.0 159.3 L658.0 161.1 L660.7 157.3 L663.3 155.3 L666.0 156.0 L668.7 158.0 L671.3 158.9 L674.0 158.7 L676.7 159.3 L679.3 158.7 L682.0 155.3 L684.7 153.3 L687.3 154.4 L690.0 154.7 L692.7 156.7 L695.3 158.0 L698.0 157.1 L700.7 154.7 L702.7 153.3 L705.3 159.3 L708.0 158.0 L710.7 156.0 L713.3 154.9 L716.0 154.4 L718.7 156.7 L721.3 156.0 L724.0 154.9 L726.7 156.7 L729.3 158.7 L732.0 158.7 L734.7 158.0 L737.3 158.0 L740.0 157.3 L742.7 158.0 L745.3 158.7 L748.3 160.8 L751.7 163.0 L755.0 163.7 L758.3 164.2 L761.7 163.0 L765.0 161.7 L768.3 160.0 L771.7 160.8 L775.0 160.8 L778.3 159.7 L781.7 160.0 L785.0 161.3 L788.3 160.8 L791.7 160.0 L795.0 160.8 L798.3 163.0 L801.7 165.0 L805.0 167.5 L808.3 169.2 L811.7 168.0 L815.0 168.3 L818.3 171.7 L821.7 174.2 L825.0 175.8 L828.3 178.3 L831.7 180.8 L835.0 182.5 L838.3 182.5 L841.7 183.3 L845.0 183.3 L848.3 184.2 L851.7 186.7 L855.0 188.3 L858.3 190.8 L861.7 195.8 L865.0 199.2 L868.3 200.0 L871.7 199.2 L875.0 200.8 L878.3 203.3 L881.7 211.7 L885.0 212.5 L888.3 213.3 L891.7 215.8 L895.0 222.5 L900.0 226.0 L904.5 233.5 L909.0 241.0 L916.0 245.5 L920.0 252.0 L924.5 255.0 L929.0 258.0 L932.5 263.8 L937.5 268.8 L942.5 273.8 L947.5 278.8 L952.5 276.2 L956.2 280.0 L960.0 292.5 L965.0 300.0 L970.0 302.5 L973.8 307.5 L976.7 318.3 L980.0 327.5 L983.3 333.3 L986.7 341.7 L990.0 350.0 L993.3 356.7 L996.7 358.3 L1000.0 358.3 L1002.5 359.2 L1005.0 363.3 L1008.3 364.2 L1010.8 354.2 L1014.2 350.8 L1016.7 351.7 L1019.2 357.5 L1021.7 361.7 L1025.0 362.5 L1028.3 361.7 L1030.8 355.0 L1032.5 350.0 L1035.8 354.7 L1039.2 352.5 L1041.7 349.7 L1045.0 354.2 L1048.3 359.2 L1050.8 365.0 L1053.3 373.3 L1055.8 380.0 L1058.3 385.0 L1061.7 385.8 L1064.2 385.0 L1066.7 393.3 L1069.2 395.8 L1071.7 386.7 L1073.3 379.0 L1074.8 376.0 L1077.0 376.0 L1079.3 375.7 L1081.5 378.3 L1083.8 382.0 L1086.0 388.0 L1088.3 392.5 L1090.5 396.3 L1092.8 400.0 L1095.0 400.8 L1097.3 397.8 L1099.5 395.2 L1102.5 394.8 L1104.8 395.5 L1107.0 399.3 L1109.3 402.3 L1111.5 405.3 L1113.8 406.8 L1116.0 407.8 L1118.3 407.2 L1120.5 405.3 L1122.8 408.3 L1124.3 410.5 L1126.5 406.8 L1128.8 406.8 L1131.0 404.5 L1133.3 399.3 L1135.5 394.8 L1137.8 397.0 L1140.0 400.0 L1142.3 403.8 L1143.8 404.5 L1146.0 400.8 L1148.3 395.5 L1150.5 390.3 L1152.0 392.5 L1154.3 398.5 L1156.5 399.3 L1158.8 401.5 L1161.0 406.0 L1163.3 410.5 L1165.5 414.3 L1167.0 415.8 L1169.9 416.5 L1170.0 416.5" fill="none" stroke="#4a964a" stroke-width="0.85" stroke-linejoin="round"/>
<path d="M59.0 397.5 L62.1 406.2 L65.1 413.1 L68.2 415.6 L71.2 410.0 L74.3 396.2 L77.3 387.5 L80.4 382.8 L83.4 385.0 L86.5 392.5 L89.5 382.5 L92.6 376.9 L95.6 375.2 L98.7 385.0 L101.7 394.4 L104.8 396.9 L107.8 393.8 L110.9 390.6 L113.9 395.0 L117.0 403.1 L120.0 405.6 L123.1 400.0 L126.1 391.2 L129.2 384.4 L132.3 392.5 L135.3 398.8 L138.4 403.1 L141.4 405.0 L144.5 400.6 L147.5 397.5 L150.6 396.2 L153.6 390.6 L156.7 385.6 L159.7 386.9 L162.8 391.9 L165.8 397.5 L168.9 402.5 L171.9 408.1 L175.0 407.5 L178.0 411.2 L181.1 414.8 L184.1 415.6 L187.2 412.2 L190.2 414.8 L193.3 416.9 L196.3 411.2 L199.4 403.8 L202.5 398.8 L205.5 397.5 L208.6 400.0 L211.6 403.3 L214.7 402.5 L217.7 395.8 L220.8 393.3 L223.8 395.0 L226.9 397.0 L229.9 398.0 L233.0 396.7 L236.0 394.2 L239.1 395.8 L242.1 399.2 L245.2 401.3 L248.2 398.3 L251.3 393.3 L254.3 393.3 L257.4 391.7 L260.4 386.7 L263.5 378.3 L266.5 373.3 L269.6 368.3 L272.7 362.5 L275.7 359.2 L278.8 360.0 L281.8 360.8 L284.9 360.0 L287.9 357.5 L291.0 354.2 L294.0 350.0 L297.1 349.2 L300.1 353.3 L303.2 356.7 L306.2 355.8 L309.3 348.3 L312.3 340.0 L315.4 334.2 L318.4 330.8 L321.5 330.0 L324.5 329.2 L327.6 327.5 L330.6 332.5 L333.7 335.8 L336.8 334.2 L339.8 333.3 L342.9 334.2 L345.9 335.8 L349.0 335.0 L352.0 327.5 L355.1 321.7 L358.1 315.8 L361.2 310.3 L364.2 308.3 L367.3 311.3 L370.3 315.8 L373.4 308.3 L376.4 303.7 L379.5 301.2 L382.5 300.0 L385.6 299.2 L388.6 297.2 L391.7 293.3 L394.7 285.3 L397.8 280.3 L400.8 280.3 L403.9 282.2 L407.0 280.8 L410.0 275.0 L413.1 270.8 L416.1 269.2 L419.2 270.0 L422.2 264.2 L425.3 258.0 L428.3 253.3 L431.4 249.2 L434.4 246.3 L437.5 242.5 L440.5 239.2 L443.6 236.7 L446.6 234.2 L458.3 225.8 L461.7 229.2 L465.0 227.5 L468.3 225.8 L471.7 223.3 L475.0 221.7 L478.3 216.7 L481.7 211.7 L485.0 206.7 L488.3 201.7 L491.7 199.2 L495.0 195.8 L498.3 195.0 L501.7 194.2 L505.0 193.3 L508.3 190.0 L511.7 188.0 L515.0 185.0 L518.3 183.3 L521.7 181.7 L525.0 180.0 L528.3 178.3 L531.7 176.7 L535.0 175.0 L538.3 173.3 L541.7 171.7 L545.0 169.7 L548.3 168.3 L551.7 166.7 L555.0 164.2 L558.3 161.7 L561.7 163.0 L565.0 164.2 L568.3 164.2 L571.7 164.2 L575.0 163.3 L578.3 164.2 L581.7 164.2 L585.0 162.5 L588.3 160.8 L591.7 160.0 L595.0 159.2 L598.3 158.3 L601.7 156.7 L602.7 155.7 L605.3 155.3 L608.0 156.0 L610.7 157.1 L613.3 157.6 L616.0 157.3 L618.7 158.0 L621.3 158.7 L624.0 158.0 L626.7 158.0 L629.3 158.7 L632.0 159.3 L634.7 158.7 L637.3 157.3 L640.0 156.0 L642.7 156.7 L645.3 156.3 L648.0 155.3 L650.7 154.7 L653.3 155.3 L656.0 156.7 L658.7 156.0 L661.3 154.9 L664.0 154.4 L666.7 155.3 L669.3 156.0 L672.0 154.0 L674.7 153.3 L677.3 154.0 L680.0 154.7 L682.7 152.7 L685.3 152.0 L688.0 153.3 L690.7 154.4 L693.3 154.9 L696.0 155.3 L698.7 154.7 L701.3 154.0 L704.0 154.9 L706.7 156.0 L709.3 154.9 L712.0 154.0 L714.7 152.7 L717.3 154.0 L720.0 155.3 L722.7 154.0 L725.3 152.7 L728.0 151.7 L730.7 150.7 L733.3 149.3 L736.0 148.0 L738.7 146.0 L741.3 147.3 L744.0 149.3 L746.7 150.9 L748.3 151.7 L751.7 153.3 L755.0 151.7 L758.3 150.3 L761.7 149.2 L764.2 148.3 L766.7 150.8 L770.0 155.8 L773.3 157.0 L776.7 155.3 L779.2 155.0 L781.7 157.5 L785.0 160.0 L788.3 159.7 L791.7 158.7 L795.0 158.3 L798.3 161.3 L801.7 166.7 L805.0 170.0 L808.3 172.5 L811.7 173.0 L815.0 172.0 L818.3 173.7 L821.7 174.2 L825.0 172.5 L828.3 170.0 L831.7 170.8 L835.0 171.7 L838.3 173.3 L841.7 174.7 L845.0 175.0 L848.3 174.7 L851.7 174.2 L855.0 175.0 L858.3 176.7 L861.7 178.3 L865.0 180.0 L868.3 183.3 L871.7 185.0 L875.0 185.8 L878.3 185.8 L881.7 187.5 L885.0 190.0 L888.3 193.3 L891.7 195.8 L895.0 198.8 L900.0 202.0 L906.0 208.0 L913.0 211.0 L917.0 215.0 L920.0 220.0 L926.5 227.0 L933.0 234.0 L940.0 244.0 L947.0 258.0 L948.8 263.8 L952.5 275.0 L957.5 275.0 L962.5 277.5 L967.5 286.2 L972.5 295.0 L977.5 301.2 L982.5 308.8 L986.2 311.2 L990.0 307.5 L995.0 311.2 L1000.0 317.5 L1005.0 312.5 L1010.0 311.2 L1015.0 316.2 L1017.5 316.3 L1020.8 317.5 L1023.3 319.2 L1025.8 327.5 L1029.2 334.2 L1032.5 335.8 L1035.8 335.8 L1038.3 339.2 L1041.7 343.3 L1045.0 351.7 L1048.3 357.5 L1051.7 364.2 L1055.0 369.2 L1058.3 370.0 L1061.7 369.7 L1064.2 370.8 L1066.7 365.8 L1069.2 358.3 L1072.5 359.2 L1074.0 361.0 L1076.3 365.5 L1078.5 373.0 L1080.8 378.3 L1083.0 382.8 L1084.5 383.5 L1086.8 379.8 L1089.0 376.8 L1092.0 374.8 L1095.0 372.3 L1097.3 369.3 L1099.5 366.3 L1102.2 364.0 L1104.8 367.8 L1107.0 370.8 L1109.3 373.3 L1111.5 374.5 L1113.8 376.0 L1116.0 379.0 L1118.3 384.3 L1120.5 388.8 L1122.8 389.5 L1125.0 388.0 L1127.3 383.5 L1129.5 385.0 L1131.8 384.3 L1134.0 382.0 L1136.3 383.5 L1138.5 385.0 L1140.8 387.3 L1143.0 385.0 L1145.3 383.5 L1147.5 383.5 L1149.8 385.8 L1152.0 391.0 L1154.3 397.0 L1156.5 397.8 L1158.8 394.0 L1161.0 390.7 L1163.3 390.3 L1165.5 392.5 L1167.8 394.0 L1169.9 394.8 L1170.0 394.8" fill="none" stroke="#f7d033" stroke-width="0.85" stroke-linejoin="round"/>
<path d="M59.0 365.6 L62.1 370.0 L65.1 373.8 L68.2 380.0 L71.2 388.1 L74.3 394.8 L77.3 392.5 L80.4 390.0 L83.4 388.5 L86.5 394.4 L89.5 390.6 L92.6 388.1 L95.6 393.8 L98.7 397.5 L101.7 396.0 L104.8 393.8 L107.8 392.2 L110.9 388.1 L113.9 382.5 L117.0 382.2 L120.0 383.8 L123.1 377.5 L126.1 371.0 L129.2 377.5 L132.3 384.4 L135.3 386.2 L138.4 385.6 L141.4 390.0 L144.5 385.0 L147.5 376.2 L150.6 378.8 L153.6 384.4 L156.7 385.6 L159.7 388.1 L162.8 393.8 L165.8 395.0 L168.9 393.5 L171.9 391.2 L175.0 386.9 L178.0 382.8 L181.1 384.4 L184.1 385.6 L187.2 386.2 L190.2 387.5 L193.3 378.8 L196.3 367.2 L199.4 369.4 L202.5 371.0 L205.5 374.2 L208.6 375.8 L211.6 378.3 L214.7 384.2 L217.7 386.7 L220.8 377.5 L223.8 368.3 L226.9 365.3 L229.9 365.8 L233.0 372.5 L236.0 375.8 L239.1 375.0 L242.1 366.7 L245.2 363.0 L248.2 370.0 L251.3 366.7 L254.3 362.5 L257.4 355.0 L260.4 361.7 L263.5 369.2 L266.5 371.3 L269.6 370.0 L272.7 364.2 L275.7 359.2 L278.8 355.8 L281.8 353.3 L284.9 351.7 L287.9 348.3 L291.0 331.0 L294.0 323.6 L297.1 315.0 L300.1 310.0 L303.2 309.6 L306.2 315.0 L309.3 320.0 L312.3 316.4 L315.4 313.0 L318.4 313.6 L321.5 315.0 L324.5 316.4 L327.6 318.0 L330.6 313.0 L333.7 308.0 L336.8 303.0 L339.8 304.4 L342.9 306.0 L345.9 302.0 L349.0 299.6 L352.0 302.0 L355.1 304.0 L358.1 296.0 L361.2 290.0 L364.2 287.0 L367.3 294.0 L370.3 295.6 L373.4 288.0 L376.4 285.0 L379.5 281.7 L382.5 283.3 L385.6 266.7 L388.6 262.5 L391.7 255.0 L394.7 249.7 L397.8 248.3 L400.8 250.8 L403.9 245.0 L407.0 243.3 L410.0 245.8 L413.1 250.0 L416.1 254.2 L419.2 257.5 L422.2 254.7 L425.3 250.3 L428.3 250.8 L431.4 252.0 L434.4 251.7 L437.5 242.5 L440.5 238.0 L443.6 241.7 L446.6 245.0 L449.7 245.8 L452.7 244.7 L455.8 240.8 L458.8 236.7 L462.5 230.8 L465.0 228.3 L468.3 228.3 L471.7 225.8 L474.2 223.3 L477.5 219.2 L480.0 214.2 L483.3 210.0 L486.7 205.0 L489.2 198.3 L492.5 191.7 L495.0 188.3 L498.3 185.8 L501.7 184.2 L505.0 183.3 L508.3 180.0 L511.7 175.8 L514.2 174.2 L517.5 174.7 L520.8 175.0 L524.2 175.0 L527.5 173.3 L530.8 170.8 L534.2 168.3 L537.5 165.8 L540.8 165.0 L544.2 165.8 L547.5 164.2 L550.8 162.5 L553.3 164.2 L556.7 165.0 L560.0 164.2 L563.3 161.7 L566.7 160.8 L570.0 158.3 L573.3 158.3 L576.7 159.2 L580.0 160.0 L583.3 158.3 L586.7 156.7 L590.0 157.0 L593.3 157.5 L596.7 157.0 L600.0 157.5 L603.3 156.7 L605.3 154.9 L608.0 154.4 L610.7 155.3 L613.3 155.3 L616.0 156.0 L618.7 156.7 L621.3 156.3 L624.0 156.7 L626.7 158.0 L629.3 158.4 L632.0 158.0 L634.7 154.7 L637.3 150.0 L640.0 148.0 L642.7 147.7 L645.3 148.3 L648.0 148.7 L650.7 150.0 L653.3 150.9 L656.0 149.3 L658.7 147.3 L661.3 145.6 L664.0 146.0 L666.7 147.3 L669.3 148.7 L672.0 149.1 L674.7 147.3 L677.3 145.6 L680.0 144.3 L682.7 144.7 L685.3 146.0 L688.0 147.3 L690.7 147.3 L693.3 146.0 L696.0 144.7 L698.7 144.7 L701.3 145.6 L704.0 146.0 L706.7 145.3 L709.3 142.0 L712.0 139.3 L714.7 138.0 L717.3 139.3 L720.0 141.3 L722.7 140.0 L725.3 138.0 L728.0 136.7 L730.7 132.7 L733.3 129.6 L736.0 129.1 L738.7 130.0 L741.3 131.3 L744.0 130.9 L746.7 132.7 L748.3 135.0 L751.7 138.3 L755.0 140.0 L758.3 140.3 L761.7 141.3 L765.0 142.5 L768.3 144.7 L771.7 143.3 L775.0 145.0 L778.3 145.8 L781.7 146.3 L785.0 145.0 L788.3 141.7 L791.7 139.7 L795.0 142.5 L798.3 145.8 L801.7 145.0 L805.0 145.8 L808.3 143.3 L811.7 145.0 L815.0 147.5 L818.3 149.2 L821.7 149.7 L825.0 150.0 L828.3 150.3 L831.7 150.0 L835.0 150.8 L838.3 152.5 L841.7 154.7 L845.0 155.8 L848.3 157.0 L851.7 158.7 L855.0 159.7 L858.3 160.8 L861.7 162.5 L865.0 164.7 L868.3 166.7 L871.7 168.3 L875.0 170.0 L878.3 172.5 L881.7 175.0 L885.0 176.7 L888.3 178.3 L891.7 180.0 L895.0 183.8 L900.0 187.5 L905.0 187.5 L910.0 190.0 L915.0 195.0 L920.0 198.8 L922.5 200.0 L927.0 205.5 L932.0 211.5 L935.0 210.0 L940.0 213.0 L944.0 220.0 L950.0 232.0 L955.0 237.5 L960.0 243.0 L962.0 249.0 L970.0 259.0 L972.5 259.5 L977.5 262.5 L981.2 275.0 L985.0 285.0 L988.8 292.5 L992.5 301.2 L996.2 307.5 L1000.0 308.8 L1005.0 309.5 L1010.0 315.0 L1010.8 318.3 L1014.2 321.7 L1017.5 327.5 L1020.0 331.7 L1023.3 325.0 L1026.7 320.0 L1030.0 315.0 L1033.3 309.2 L1035.8 305.8 L1038.3 311.7 L1041.7 312.5 L1045.0 314.2 L1048.3 320.8 L1051.7 330.0 L1055.0 338.3 L1058.3 345.8 L1060.0 349.2 L1063.3 348.3 L1066.7 345.0 L1070.0 346.7 L1073.3 350.0 L1076.3 355.0 L1078.5 359.5 L1081.5 360.3 L1084.5 363.3 L1087.5 367.8 L1090.5 363.3 L1092.8 362.5 L1095.8 364.8 L1098.0 367.8 L1099.5 371.5 L1102.5 370.8 L1105.5 373.8 L1108.5 373.8 L1110.8 378.3 L1113.0 381.3 L1115.3 383.5 L1117.5 382.0 L1119.8 378.3 L1122.0 375.3 L1124.3 372.3 L1126.5 376.0 L1128.8 379.8 L1131.0 383.5 L1133.3 381.3 L1135.5 382.8 L1137.8 385.8 L1140.0 388.8 L1142.3 390.3 L1144.5 389.2 L1146.8 388.0 L1149.0 386.5 L1151.3 384.3 L1153.5 380.5 L1155.8 375.3 L1158.0 371.5 L1160.3 369.3 L1162.5 366.3 L1164.8 365.5 L1167.0 365.2 L1169.9 363.3 L1170.0 363.3" fill="none" stroke="#f76a6a" stroke-width="0.85" stroke-linejoin="round"/>
<path d="M59.0 390.0 L62.1 393.8 L65.1 396.2 L68.2 399.4 L71.2 402.5 L74.3 401.2 L77.3 396.2 L80.4 390.6 L83.4 390.6 L86.5 395.6 L89.5 397.5 L92.6 393.8 L95.6 394.4 L98.7 398.1 L101.7 400.6 L104.8 404.4 L107.8 406.2 L110.9 403.8 L113.9 402.5 L117.0 403.8 L120.0 403.8 L123.1 400.0 L126.1 395.6 L129.2 392.5 L132.3 395.6 L135.3 400.0 L138.4 401.9 L141.4 400.0 L144.5 393.8 L147.5 390.0 L150.6 388.1 L153.6 386.9 L156.7 386.9 L159.7 390.6 L162.8 396.2 L165.8 398.8 L168.9 400.6 L171.9 401.2 L175.0 398.1 L178.0 397.5 L181.1 398.8 L184.1 400.6 L187.2 401.2 L190.2 400.6 L193.3 399.4 L196.3 393.8 L199.4 390.6 L202.5 388.8 L205.5 388.3 L208.6 390.0 L211.6 393.3 L214.7 393.3 L217.7 391.7 L220.8 389.2 L223.8 387.5 L226.9 387.5 L229.9 388.3 L233.0 390.0 L236.0 392.5 L239.1 393.3 L242.1 393.3 L245.2 391.7 L248.2 393.3 L251.3 391.7 L254.3 388.3 L257.4 384.2 L260.4 381.7 L263.5 379.2 L266.5 375.8 L269.6 373.3 L272.7 370.0 L275.7 367.5 L278.8 365.0 L281.8 364.7 L284.9 362.5 L287.9 358.3 L291.0 352.5 L294.0 348.3 L297.1 346.3 L300.1 345.8 L303.2 348.3 L306.2 350.0 L309.3 345.0 L312.3 339.2 L315.4 335.0 L318.4 332.5 L321.5 330.8 L324.5 330.8 L327.6 332.5 L330.6 331.7 L333.7 330.0 L336.8 328.0 L339.8 327.0 L342.9 326.7 L345.9 327.0 L349.0 326.3 L352.0 322.5 L355.1 318.3 L358.1 313.7 L361.2 310.3 L364.2 307.5 L367.3 302.5 L370.3 297.5 L373.4 295.3 L376.4 296.3 L379.5 298.0 L382.5 295.8 L385.6 289.2 L388.6 284.7 L391.7 280.8 L394.7 277.5 L397.8 275.3 L400.8 273.3 L403.9 271.7 L407.0 269.7 L410.0 268.0 L413.1 267.5 L416.1 269.2 L419.2 269.7 L422.2 267.0 L425.3 261.7 L428.3 257.5 L431.4 253.3 L434.4 249.7 L437.5 244.2 L440.5 240.8 L443.6 241.3 L446.6 241.7 L449.7 241.3 L452.7 240.0 L455.8 238.0 L458.8 235.8 L461.7 231.7 L465.0 230.0 L468.3 228.3 L471.7 227.5 L475.0 223.3 L478.3 218.3 L481.7 213.3 L485.0 208.3 L488.3 203.3 L491.7 199.2 L495.0 195.8 L498.3 193.7 L501.7 192.5 L505.0 191.7 L508.3 190.0 L511.7 187.5 L515.0 185.0 L518.3 182.5 L521.7 180.8 L525.0 179.2 L528.3 177.0 L531.7 175.8 L535.0 174.2 L538.3 172.5 L541.7 171.3 L545.0 170.0 L548.3 168.3 L551.7 166.7 L555.0 165.0 L558.3 164.2 L561.7 164.2 L565.0 163.7 L568.3 163.3 L571.7 162.5 L575.0 161.7 L578.3 161.7 L581.7 161.3 L585.0 160.3 L588.3 159.7 L591.7 159.2 L595.0 158.3 L598.3 158.0 L601.7 157.5 L605.3 157.1 L610.7 157.3 L616.0 157.1 L621.3 157.3 L626.7 158.0 L632.0 158.7 L637.3 156.7 L640.0 154.4 L642.7 153.3 L648.0 152.7 L653.3 152.7 L658.7 152.3 L662.7 152.0 L666.7 153.1 L672.0 154.0 L677.3 153.1 L682.7 151.7 L685.3 150.9 L690.7 152.0 L696.0 152.7 L701.3 152.0 L706.7 151.7 L710.7 150.7 L713.3 148.7 L717.3 149.6 L722.7 150.4 L728.0 148.7 L733.3 146.0 L738.7 144.0 L744.0 144.7 L746.7 146.0 L748.3 149.7 L751.7 151.3 L755.0 151.3 L758.3 151.7 L761.7 150.8 L765.0 150.8 L768.3 152.5 L771.7 153.3 L775.0 154.2 L778.3 154.2 L781.7 155.0 L785.0 155.3 L788.3 154.2 L791.7 153.3 L795.0 154.2 L798.3 155.8 L801.7 158.3 L805.0 160.0 L808.3 160.8 L811.7 160.8 L815.0 162.5 L818.3 164.7 L821.7 165.8 L825.0 166.3 L828.3 166.7 L831.7 167.5 L835.0 169.2 L838.3 170.0 L841.7 171.3 L845.0 172.0 L848.3 173.0 L851.7 174.2 L855.0 175.8 L858.3 177.5 L861.7 179.2 L865.0 180.8 L868.3 183.0 L871.7 184.2 L875.0 186.7 L878.3 189.2 L881.7 192.0 L885.0 194.2 L888.3 195.8 L891.7 198.3 L895.0 200.0 L900.0 205.0 L903.0 208.0 L908.0 212.0 L913.0 216.5 L917.0 219.5 L921.5 224.0 L925.5 228.0 L930.0 232.5 L934.0 236.5 L938.5 241.0 L941.5 244.5 L945.5 250.0 L948.0 255.0 L950.5 259.5 L955.0 265.0 L960.0 271.2 L965.0 277.5 L970.0 283.8 L975.0 291.2 L980.0 301.2 L985.0 312.5 L986.7 314.2 L990.0 318.3 L993.3 324.2 L996.7 327.0 L1001.7 329.2 L1006.7 330.0 L1011.7 329.2 L1015.8 330.8 L1020.0 335.0 L1025.0 336.7 L1030.0 337.5 L1033.3 332.5 L1036.7 332.0 L1040.0 335.0 L1043.3 339.2 L1046.7 344.2 L1050.0 350.8 L1053.3 359.2 L1056.7 365.8 L1060.0 367.5 L1065.0 368.7 L1070.0 365.8 L1071.0 364.8 L1074.8 364.0 L1077.8 369.3 L1080.8 373.8 L1084.5 377.5 L1088.3 378.7 L1092.0 379.8 L1096.5 378.3 L1101.8 376.8 L1105.5 379.0 L1108.5 382.8 L1112.3 387.3 L1116.0 390.3 L1119.8 390.3 L1123.5 388.8 L1127.3 389.5 L1130.3 391.8 L1133.3 388.0 L1137.0 388.0 L1140.0 391.0 L1143.8 392.5 L1147.5 389.5 L1150.5 388.0 L1154.3 391.8 L1157.3 390.3 L1161.0 388.8 L1164.0 388.8 L1167.8 391.8 L1169.9 392.5 L1170.0 392.5" fill="none" stroke="#f24545" stroke-width="1.5" stroke-dasharray="6 6" stroke-linecap="round" stroke-linejoin="round"/>
<path d="M59.0 421.2 L62.1 422.5 L65.1 428.1 L68.2 431.9 L71.2 435.0 L74.3 436.2 L77.3 435.0 L80.4 433.8 L83.4 432.8 L86.5 432.2 L89.5 431.9 L92.6 430.0 L95.6 428.8 L98.7 427.5 L101.7 425.0 L104.8 420.0 L107.8 417.8 L110.9 420.0 L113.9 421.9 L117.0 417.5 L120.0 413.8 L123.1 418.8 L126.1 423.1 L129.2 424.4 L132.3 425.0 L135.3 425.2 L138.4 426.9 L141.4 429.4 L144.5 428.8 L147.5 427.5 L150.6 426.2 L153.6 425.0 L156.7 424.8 L159.7 424.8 L162.8 425.2 L165.8 426.2 L168.9 427.5 L171.9 428.5 L175.0 428.1 L178.0 427.5 L181.1 426.9 L184.1 426.0 L187.2 424.4 L190.2 423.1 L193.3 422.5 L196.3 422.5 L199.4 423.1 L202.5 424.4 L205.5 423.7 L208.6 423.3 L211.6 428.8 L214.7 424.0 L217.7 416.7 L220.8 408.0 L223.8 400.5 L226.9 400.8 L229.9 402.5 L233.0 404.2 L236.0 404.7 L239.1 405.0 L242.1 406.3 L245.2 407.5 L248.2 407.5 L251.3 407.2 L254.3 405.8 L257.4 403.3 L260.4 400.0 L263.5 395.0 L266.5 390.0 L269.6 388.3 L272.7 393.3 L275.7 390.8 L278.8 393.3 L281.8 393.3 L284.9 389.2 L287.9 385.8 L291.0 383.3 L294.0 378.7 L297.1 381.7 L300.1 380.8 L303.2 380.0 L306.2 378.3 L309.3 375.8 L312.3 369.2 L315.4 365.8 L318.4 363.3 L321.5 361.3 L324.5 360.0 L327.6 360.8 L330.6 361.7 L333.7 361.3 L336.8 360.0 L339.8 357.5 L342.9 354.2 L345.9 349.2 L349.0 348.3 L364.2 335.0 L367.3 332.2 L370.3 330.3 L373.4 327.5 L376.4 324.2 L379.5 320.3 L382.5 319.2 L385.6 317.8 L388.6 313.0 L391.7 309.2 L394.7 305.3 L397.8 302.0 L400.8 298.7 L403.9 295.5 L407.0 293.7 L410.0 292.2 L413.1 290.8 L416.1 290.0 L419.2 288.8 L422.2 286.7 L425.3 283.0 L428.3 278.0 L431.4 274.7 L434.4 272.0 L437.5 266.7 L440.5 261.3 L443.6 257.2 L446.6 255.8 L449.7 254.7 L452.7 252.2 L455.8 249.2 L458.8 245.8 L461.9 241.7 L465.0 232.5 L468.3 231.3 L471.7 230.8 L475.0 228.3 L478.3 223.3 L481.7 219.2 L485.0 216.7 L488.3 215.8 L491.7 214.2 L495.0 210.8 L498.3 207.5 L501.7 203.3 L505.0 199.2 L508.3 195.8 L511.7 193.3 L515.0 190.8 L518.3 187.5 L521.7 184.2 L525.0 181.3 L528.3 178.7 L531.7 176.7 L535.0 175.0 L538.3 173.3 L541.7 172.0 L545.0 171.3 L548.3 170.0 L551.7 168.0 L555.0 166.3 L558.3 165.3 L561.7 164.7 L565.0 164.7 L568.3 164.2 L571.7 163.7 L575.0 163.0 L578.3 162.0 L581.7 161.3 L585.0 161.0 L588.3 160.7 L591.7 160.0 L595.0 159.7 L598.3 158.7 L601.7 157.5 L605.3 156.7 L610.7 157.6 L616.0 156.0 L621.3 155.3 L626.7 157.3 L632.0 158.0 L637.3 158.0 L642.7 158.7 L648.0 155.7 L653.3 154.9 L658.7 156.7 L664.0 156.3 L669.3 156.7 L674.7 156.3 L680.0 158.0 L685.3 157.3 L690.7 158.7 L696.0 159.3 L701.3 159.3 L706.7 158.9 L712.0 158.7 L717.3 160.0 L722.7 162.4 L728.0 164.3 L733.3 162.9 L738.7 160.7 L744.0 162.0 L748.3 163.7 L751.7 164.2 L755.0 164.2 L758.3 164.7 L761.7 165.3 L765.0 166.3 L768.3 167.5 L771.7 166.7 L775.0 165.0 L778.3 164.7 L781.7 165.0 L785.0 167.5 L788.3 169.2 L791.7 170.8 L795.0 172.5 L798.3 173.7 L801.7 174.2 L805.0 174.2 L808.3 176.7 L811.7 178.3 L815.0 177.5 L818.3 176.7 L821.7 177.5 L825.0 178.3 L828.3 179.2 L831.7 180.8 L835.0 182.5 L838.3 183.3 L841.7 184.2 L845.0 185.0 L848.3 185.8 L851.7 187.5 L855.0 189.2 L858.3 191.7 L861.7 194.2 L865.0 196.3 L868.3 197.5 L871.7 199.2 L875.0 201.7 L878.3 204.2 L881.7 206.7 L885.0 210.0 L888.3 213.3 L891.7 216.3 L895.0 218.8 L900.0 221.5 L903.0 224.5 L906.0 229.5 L909.5 234.0 L914.0 238.0 L917.5 242.5 L920.5 248.0 L923.5 253.0 L926.5 257.5 L929.0 261.0 L935.0 272.5 L940.0 281.2 L945.0 288.8 L950.0 296.2 L955.0 303.8 L960.0 310.0 L961.7 311.7 L965.0 317.5 L968.3 321.7 L971.7 325.0 L975.0 326.7 L978.3 327.0 L981.7 330.0 L985.0 334.2 L988.3 340.0 L991.7 343.7 L995.0 345.8 L998.3 350.0 L1001.7 353.3 L1005.0 355.0 L1008.3 355.0 L1011.7 354.2 L1015.0 356.7 L1018.3 360.8 L1021.7 366.7 L1025.0 371.7 L1028.3 374.2 L1031.7 375.0 L1036.7 376.7 L1040.0 378.3 L1043.3 384.2 L1046.7 385.8 L1050.0 385.8 L1053.3 385.8 L1056.7 386.7 L1060.0 387.5 L1063.3 386.7 L1065.8 392.5 L1069.2 395.8 L1071.0 397.0 L1074.8 400.8 L1077.8 401.5 L1080.8 399.3 L1084.5 397.8 L1088.3 397.8 L1091.3 395.5 L1094.3 393.3 L1097.3 397.8 L1101.0 399.3 L1104.0 400.8 L1107.8 402.3 L1111.5 404.5 L1115.3 404.5 L1119.0 403.8 L1122.8 408.3 L1126.5 409.3 L1129.5 404.5 L1133.3 405.3 L1135.5 409.0 L1138.5 412.8 L1142.3 410.2 L1146.0 408.3 L1149.8 409.3 L1153.5 408.3 L1156.5 409.8 L1159.5 414.3 L1162.5 419.5 L1165.5 422.5 L1169.9 425.2 L1170.0 425.2" fill="none" stroke="#4848f5" stroke-width="1.5" stroke-dasharray="6 6" stroke-linecap="round" stroke-linejoin="round"/>
<path d="M59.0 369.0 L62.1 347.0 L65.1 362.0 L68.2 410.0 L71.2 413.0 L74.3 419.0 L77.3 418.0 L80.4 371.6 L83.4 372.4 L86.5 394.0 L89.5 400.0 L92.6 414.0 L95.6 422.0 L98.7 425.0 L101.7 427.6 L104.8 424.0 L107.8 425.0 L110.9 442.0 L113.9 434.4 L117.0 435.6 L120.0 438.4 L123.1 442.0 L126.1 425.0 L129.2 415.0 L132.3 392.0 L135.3 371.6 L138.4 386.0 L141.4 391.0 L144.5 397.0 L147.5 408.0 L150.6 418.0 L153.6 404.0 L156.7 370.0 L159.7 333.6 L162.8 390.0 L165.8 325.6 L168.9 344.4 L171.9 344.4 L175.0 345.0 L178.0 359.6 L181.1 366.0 L184.1 371.0 L187.2 363.0 L190.2 342.0 L193.3 324.0 L196.3 290.0 L199.4 342.0 L202.5 361.0 L205.5 367.0 L208.6 369.0 L211.6 373.0 L214.7 369.0 L217.7 366.4 L220.8 380.0 L223.8 394.0 L226.9 378.0 L229.9 383.6 L233.0 384.4 L236.0 366.0 L239.1 376.0 L242.1 379.0 L245.2 381.6 L248.2 382.0 L251.3 386.4 L254.3 381.0 L257.4 375.0 L260.4 372.4 L263.5 371.6 L266.5 381.0 L269.6 384.0 L272.7 378.0 L275.7 380.0 L278.8 358.0 L281.8 345.6 L284.9 345.0 L287.9 304.0 L291.0 280.4 L294.0 279.6 L297.1 308.0 L300.1 323.0 L303.2 331.0 L306.2 336.0 L309.3 341.0 L312.3 350.0 L315.4 362.0 L318.4 364.4 L321.5 352.0 L324.5 344.4 L327.6 346.0 L330.6 343.6 L333.7 339.0 L336.8 341.6 L339.8 343.6 L342.9 345.6 L345.9 330.0 L349.0 326.0 L352.0 316.4 L355.1 321.6 L358.1 323.6 L361.2 322.0 L364.2 319.6 L367.3 309.6 L370.3 302.0 L373.4 293.0 L376.4 287.0 L379.5 283.6 L382.5 278.0 L385.6 265.0 L388.6 263.6 L391.7 271.0 L394.7 258.0 L397.8 263.6 L400.8 241.6 L403.9 241.6 L407.0 241.0 L410.0 237.6 L413.1 228.0 L416.1 246.0 L419.2 247.6 L422.2 238.0 L425.3 225.6 L428.3 230.0 L431.4 240.4 L434.4 234.0 L437.5 229.6 L440.5 231.0 L443.6 230.4 L446.6 228.4 L449.7 226.0 L452.7 222.4 L455.8 214.4 L458.8 213.0 L461.9 214.4 L464.9 208.0 L468.0 201.0 L471.0 200.0 L474.1 200.0 L477.2 196.4 L480.2 201.0 L483.3 187.0 L486.3 180.0 L489.4 182.0 L492.4 185.0 L495.5 175.0 L498.5 197.6 L501.6 196.0 L504.6 192.0 L507.7 187.0 L510.7 186.0 L513.8 185.6 L516.8 184.4 L519.9 181.0 L522.9 182.0 L526.0 178.0 L529.0 179.0 L532.1 177.6 L535.1 177.6 L538.2 178.0 L541.2 166.0 L544.3 166.4 L547.4 163.0 L550.4 168.0 L553.5 169.6 L556.5 171.6 L559.6 172.4 L562.6 171.0 L565.7 170.0 L568.7 169.0 L571.8 168.4 L574.8 165.6 L577.9 163.6 L580.9 160.0 L584.0 161.6 L587.0 165.6 L590.1 165.0 L593.1 162.4 L596.2 160.4 L599.2 166.0 L602.3 164.4 L605.3 165.6 L608.4 163.0 L611.4 161.0 L614.5 161.6 L617.6 162.0 L620.6 162.4 L623.7 159.0 L626.7 151.0 L629.8 150.4 L632.8 150.0 L635.9 144.0 L638.9 137.0 L642.0 149.0 L645.0 157.0 L648.1 159.6 L651.1 158.4 L654.2 152.0 L657.2 135.6 L660.3 123.0 L663.3 133.0 L666.4 142.4 L669.4 137.0 L672.5 132.0 L675.5 116.0 L678.6 122.0 L681.6 132.4 L684.7 131.6 L687.8 126.0 L690.8 128.0 L693.9 131.0 L696.9 136.4 L700.0 135.6 L703.0 137.6 L706.1 139.0 L709.1 137.0 L712.2 141.0 L715.2 135.0 L718.3 144.0 L721.3 146.0 L724.4 144.0 L727.4 137.0 L730.5 137.4 L733.5 138.0 L736.6 140.0 L739.6 142.4 L742.7 141.6 L745.7 139.0 L748.8 140.0 L751.8 140.4 L754.9 137.6 L758.0 127.0 L761.0 120.4 L764.1 125.6 L767.1 124.0 L770.2 121.0 L773.2 117.0 L776.3 116.0 L779.3 120.0 L782.4 110.0 L785.4 113.6 L788.5 118.0 L791.5 117.6 L794.6 123.0 L797.6 130.0 L800.7 139.6 L803.7 146.0 L806.8 134.0 L809.8 127.0 L812.9 131.0 L815.9 157.6 L819.0 155.0 L822.0 147.0 L825.1 147.0 L828.2 161.0 L831.2 170.0 L834.3 178.0 L837.3 169.6 L840.4 170.4 L843.4 167.6 L846.5 163.6 L849.5 173.0 L852.6 169.6 L855.6 173.6 L858.7 178.0 L861.7 182.0 L864.8 184.0 L867.8 187.6 L870.9 187.0 L873.9 186.4 L877.0 189.0 L880.0 187.6 L883.1 189.0 L886.1 186.0 L889.2 189.0 L892.2 196.0 L895.3 195.6 L898.4 191.0 L901.4 192.0 L904.5 196.0 L907.5 199.0 L910.6 200.0 L913.6 197.6 L916.7 188.0 L919.7 182.0 L922.8 187.6 L925.8 188.0 L928.9 186.4 L931.9 193.0" fill="none" stroke="#000" stroke-width="2.4" stroke-linejoin="round" stroke-linecap="round"/>
<path d="M59 58.6 V527" stroke="#000" stroke-width="1.08" fill="none"/>
<path d="M58.4 526.45 H1170" stroke="#000" stroke-width="1.15" fill="none"/>
<path d="M58.4 59 H1170" stroke="#000" stroke-width="0.8" fill="none"/>
<path d="M1169.55 58.6 V527" stroke="#000" stroke-width="0.75" fill="none"/>
<path d="M59.00 526.5 v7.2 M62.05 526.5 v7.2 M65.10 526.5 v7.2 M68.16 526.5 v7.2 M71.21 526.5 v7.2 M74.26 526.5 v7.2 M77.31 526.5 v7.2 M80.37 526.5 v7.2 M83.42 526.5 v7.2 M86.47 526.5 v7.2 M89.52 526.5 v7.2 M92.57 526.5 v7.2 M95.63 526.5 v7.2 M98.68 526.5 v7.2 M101.73 526.5 v7.2 M104.78 526.5 v7.2 M107.84 526.5 v7.2 M110.89 526.5 v7.2 M113.94 526.5 v7.2 M116.99 526.5 v7.2 M120.04 526.5 v7.2 M123.10 526.5 v7.2 M126.15 526.5 v7.2 M129.20 526.5 v7.2 M132.25 526.5 v7.2 M135.30 526.5 v7.2 M138.36 526.5 v7.2 M141.41 526.5 v7.2 M144.46 526.5 v7.2 M147.51 526.5 v7.2 M150.57 526.5 v7.2 M153.62 526.5 v7.2 M156.67 526.5 v7.2 M159.72 526.5 v7.2 M162.77 526.5 v7.2 M165.83 526.5 v7.2 M168.88 526.5 v7.2 M171.93 526.5 v7.2 M174.98 526.5 v7.2 M178.04 526.5 v7.2 M181.09 526.5 v7.2 M184.14 526.5 v7.2 M187.19 526.5 v7.2 M190.24 526.5 v7.2 M193.30 526.5 v7.2 M196.35 526.5 v7.2 M199.40 526.5 v7.2 M202.45 526.5 v7.2 M205.51 526.5 v7.2 M208.56 526.5 v7.2 M211.61 526.5 v7.2 M214.66 526.5 v7.2 M217.71 526.5 v7.2 M220.77 526.5 v7.2 M223.82 526.5 v7.2 M226.87 526.5 v7.2 M229.92 526.5 v7.2 M232.98 526.5 v7.2 M236.03 526.5 v7.2 M239.08 526.5 v7.2 M242.13 526.5 v7.2 M245.18 526.5 v7.2 M248.24 526.5 v7.2 M251.29 526.5 v7.2 M254.34 526.5 v7.2 M257.39 526.5 v7.2 M260.45 526.5 v7.2 M263.50 526.5 v7.2 M266.55 526.5 v7.2 M269.60 526.5 v7.2 M272.65 526.5 v7.2 M275.71 526.5 v7.2 M278.76 526.5 v7.2 M281.81 526.5 v7.2 M284.86 526.5 v7.2 M287.91 526.5 v7.2 M290.97 526.5 v7.2 M294.02 526.5 v7.2 M297.07 526.5 v7.2 M300.12 526.5 v7.2 M303.18 526.5 v7.2 M306.23 526.5 v7.2 M309.28 526.5 v7.2 M312.33 526.5 v7.2 M315.38 526.5 v7.2 M318.44 526.5 v7.2 M321.49 526.5 v7.2 M324.54 526.5 v7.2 M327.59 526.5 v7.2 M330.65 526.5 v7.2 M333.70 526.5 v7.2 M336.75 526.5 v7.2 M339.80 526.5 v7.2 M342.85 526.5 v7.2 M345.91 526.5 v7.2 M348.96 526.5 v7.2 M352.01 526.5 v7.2 M355.06 526.5 v7.2 M358.12 526.5 v7.2 M361.17 526.5 v7.2 M364.22 526.5 v7.2 M367.27 526.5 v7.2 M370.32 526.5 v7.2 M373.38 526.5 v7.2 M376.43 526.5 v7.2 M379.48 526.5 v7.2 M382.53 526.5 v7.2 M385.59 526.5 v7.2 M388.64 526.5 v7.2 M391.69 526.5 v7.2 M394.74 526.5 v7.2 M397.79 526.5 v7.2 M400.85 526.5 v7.2 M403.90 526.5 v7.2 M406.95 526.5 v7.2 M410.00 526.5 v7.2 M413.05 526.5 v7.2 M416.11 526.5 v7.2 M419.16 526.5 v7.2 M422.21 526.5 v7.2 M425.26 526.5 v7.2 M428.32 526.5 v7.2 M431.37 526.5 v7.2 M434.42 526.5 v7.2 M437.47 526.5 v7.2 M440.52 526.5 v7.2 M443.58 526.5 v7.2 M446.63 526.5 v7.2 M449.68 526.5 v7.2 M452.73 526.5 v7.2 M455.79 526.5 v7.2 M458.84 526.5 v7.2 M461.89 526.5 v7.2 M464.94 526.5 v7.2 M467.99 526.5 v7.2 M471.05 526.5 v7.2 M474.10 526.5 v7.2 M477.15 526.5 v7.2 M480.20 526.5 v7.2 M483.26 526.5 v7.2 M486.31 526.5 v7.2 M489.36 526.5 v7.2 M492.41 526.5 v7.2 M495.46 526.5 v7.2 M498.52 526.5 v7.2 M501.57 526.5 v7.2 M504.62 526.5 v7.2 M507.67 526.5 v7.2 M510.73 526.5 v7.2 M513.78 526.5 v7.2 M516.83 526.5 v7.2 M519.88 526.5 v7.2 M522.93 526.5 v7.2 M525.99 526.5 v7.2 M529.04 526.5 v7.2 M532.09 526.5 v7.2 M535.14 526.5 v7.2 M538.20 526.5 v7.2 M541.25 526.5 v7.2 M544.30 526.5 v7.2 M547.35 526.5 v7.2 M550.40 526.5 v7.2 M553.46 526.5 v7.2 M556.51 526.5 v7.2 M559.56 526.5 v7.2 M562.61 526.5 v7.2 M565.66 526.5 v7.2 M568.72 526.5 v7.2 M571.77 526.5 v7.2 M574.82 526.5 v7.2 M577.87 526.5 v7.2 M580.93 526.5 v7.2 M583.98 526.5 v7.2 M587.03 526.5 v7.2 M590.08 526.5 v7.2 M593.13 526.5 v7.2 M596.19 526.5 v7.2 M599.24 526.5 v7.2 M602.29 526.5 v7.2 M605.34 526.5 v7.2 M608.40 526.5 v7.2 M611.45 526.5 v7.2 M614.50 526.5 v7.2 M617.55 526.5 v7.2 M620.60 526.5 v7.2 M623.66 526.5 v7.2 M626.71 526.5 v7.2 M629.76 526.5 v7.2 M632.81 526.5 v7.2 M635.87 526.5 v7.2 M638.92 526.5 v7.2 M641.97 526.5 v7.2 M645.02 526.5 v7.2 M648.07 526.5 v7.2 M651.13 526.5 v7.2 M654.18 526.5 v7.2 M657.23 526.5 v7.2 M660.28 526.5 v7.2 M663.34 526.5 v7.2 M666.39 526.5 v7.2 M669.44 526.5 v7.2 M672.49 526.5 v7.2 M675.54 526.5 v7.2 M678.60 526.5 v7.2 M681.65 526.5 v7.2 M684.70 526.5 v7.2 M687.75 526.5 v7.2 M690.80 526.5 v7.2 M693.86 526.5 v7.2 M696.91 526.5 v7.2 M699.96 526.5 v7.2 M703.01 526.5 v7.2 M706.07 526.5 v7.2 M709.12 526.5 v7.2 M712.17 526.5 v7.2 M715.22 526.5 v7.2 M718.27 526.5 v7.2 M721.33 526.5 v7.2 M724.38 526.5 v7.2 M727.43 526.5 v7.2 M730.48 526.5 v7.2 M733.54 526.5 v7.2 M736.59 526.5 v7.2 M739.64 526.5 v7.2 M742.69 526.5 v7.2 M745.74 526.5 v7.2 M748.80 526.5 v7.2 M751.85 526.5 v7.2 M754.90 526.5 v7.2 M757.95 526.5 v7.2 M761.01 526.5 v7.2 M764.06 526.5 v7.2 M767.11 526.5 v7.2 M770.16 526.5 v7.2 M773.21 526.5 v7.2 M776.27 526.5 v7.2 M779.32 526.5 v7.2 M782.37 526.5 v7.2 M785.42 526.5 v7.2 M788.48 526.5 v7.2 M791.53 526.5 v7.2 M794.58 526.5 v7.2 M797.63 526.5 v7.2 M800.68 526.5 v7.2 M803.74 526.5 v7.2 M806.79 526.5 v7.2 M809.84 526.5 v7.2 M812.89 526.5 v7.2 M815.95 526.5 v7.2 M819.00 526.5 v7.2 M822.05 526.5 v7.2 M825.10 526.5 v7.2 M828.15 526.5 v7.2 M831.21 526.5 v7.2 M834.26 526.5 v7.2 M837.31 526.5 v7.2 M840.36 526.5 v7.2 M843.41 526.5 v7.2 M846.47 526.5 v7.2 M849.52 526.5 v7.2 M852.57 526.5 v7.2 M855.62 526.5 v7.2 M858.68 526.5 v7.2 M861.73 526.5 v7.2 M864.78 526.5 v7.2 M867.83 526.5 v7.2 M870.88 526.5 v7.2 M873.94 526.5 v7.2 M876.99 526.5 v7.2 M880.04 526.5 v7.2 M883.09 526.5 v7.2 M886.15 526.5 v7.2 M889.20 526.5 v7.2 M892.25 526.5 v7.2 M895.30 526.5 v7.2 M898.35 526.5 v7.2 M901.41 526.5 v7.2 M904.46 526.5 v7.2 M907.51 526.5 v7.2 M910.56 526.5 v7.2 M913.62 526.5 v7.2 M916.67 526.5 v7.2 M919.72 526.5 v7.2 M922.77 526.5 v7.2 M925.82 526.5 v7.2 M928.88 526.5 v7.2 M931.93 526.5 v7.2 M934.98 526.5 v7.2 M938.03 526.5 v7.2 M941.09 526.5 v7.2 M944.14 526.5 v7.2 M947.19 526.5 v7.2 M950.24 526.5 v7.2 M953.29 526.5 v7.2 M956.35 526.5 v7.2 M959.40 526.5 v7.2 M962.45 526.5 v7.2 M965.50 526.5 v7.2 M968.55 526.5 v7.2 M971.61 526.5 v7.2 M974.66 526.5 v7.2 M977.71 526.5 v7.2 M980.76 526.5 v7.2 M983.82 526.5 v7.2 M986.87 526.5 v7.2 M989.92 526.5 v7.2 M992.97 526.5 v7.2 M996.02 526.5 v7.2 M999.08 526.5 v7.2 M1002.13 526.5 v7.2 M1005.18 526.5 v7.2 M1008.23 526.5 v7.2 M1011.29 526.5 v7.2 M1014.34 526.5 v7.2 M1017.39 526.5 v7.2 M1020.44 526.5 v7.2 M1023.49 526.5 v7.2 M1026.55 526.5 v7.2 M1029.60 526.5 v7.2 M1032.65 526.5 v7.2 M1035.70 526.5 v7.2 M1038.76 526.5 v7.2 M1041.81 526.5 v7.2 M1044.86 526.5 v7.2 M1047.91 526.5 v7.2 M1050.96 526.5 v7.2 M1054.02 526.5 v7.2 M1057.07 526.5 v7.2 M1060.12 526.5 v7.2 M1063.17 526.5 v7.2 M1066.23 526.5 v7.2 M1069.28 526.5 v7.2 M1072.33 526.5 v7.2 M1075.38 526.5 v7.2 M1078.43 526.5 v7.2 M1081.49 526.5 v7.2 M1084.54 526.5 v7.2 M1087.59 526.5 v7.2 M1090.64 526.5 v7.2 M1093.70 526.5 v7.2 M1096.75 526.5 v7.2 M1099.80 526.5 v7.2 M1102.85 526.5 v7.2 M1105.90 526.5 v7.2 M1108.96 526.5 v7.2 M1112.01 526.5 v7.2 M1115.06 526.5 v7.2 M1118.11 526.5 v7.2 M1121.16 526.5 v7.2 M1124.22 526.5 v7.2 M1127.27 526.5 v7.2 M1130.32 526.5 v7.2 M1133.37 526.5 v7.2 M1136.43 526.5 v7.2 M1139.48 526.5 v7.2 M1142.53 526.5 v7.2 M1145.58 526.5 v7.2 M1148.63 526.5 v7.2 M1151.69 526.5 v7.2 M1154.74 526.5 v7.2 M1157.79 526.5 v7.2 M1160.84 526.5 v7.2 M1163.90 526.5 v7.2 M1166.95 526.5 v7.2 M1170.00 526.5 v7.2" stroke="#000" stroke-width="0.78" fill="none"/>
<path d="M59.0 509.40 h-7 M59.0 467.76 h-7 M59.0 426.12 h-7 M59.0 384.48 h-7 M59.0 342.84 h-7 M59.0 301.20 h-7 M59.0 259.56 h-7 M59.0 217.92 h-7 M59.0 176.28 h-7 M59.0 134.64 h-7 M59.0 93.00 h-7" stroke="#222" stroke-width="0.9" fill="none"/>
<g font-family="Liberation Sans, sans-serif" font-size="10.9" fill="#111" text-anchor="middle">
<text transform="translate(42 509.4) rotate(-90) scale(0.8 1)">-40</text>
<text transform="translate(42 467.8) rotate(-90) scale(0.8 1)">-35</text>
<text transform="translate(42 426.1) rotate(-90) scale(0.8 1)">-30</text>
<text transform="translate(42 384.5) rotate(-90) scale(0.8 1)">-25</text>
<text transform="translate(42 342.8) rotate(-90) scale(0.8 1)">-20</text>
<text transform="translate(42 301.2) rotate(-90) scale(0.8 1)">-15</text>
<text transform="translate(42 259.6) rotate(-90) scale(0.8 1)">-10</text>
<text transform="translate(42 217.9) rotate(-90) scale(0.8 1)">-5</text>
<text transform="translate(42 176.3) rotate(-90) scale(0.8 1)">0</text>
<text transform="translate(42 134.6) rotate(-90) scale(0.8 1)">5</text>
<text transform="translate(42 93.0) rotate(-90) scale(0.8 1)">10</text>
</g>
<g font-family="Liberation Sans, sans-serif" font-size="10.9" fill="#111" text-anchor="middle">
<text transform="translate(59.0 552.1) scale(0.75 1)">sty 01</text>
<text transform="translate(89.5 552.1) scale(0.75 1)">sty 11</text>
<text transform="translate(120.0 552.1) scale(0.75 1)">sty 21</text>
<text transform="translate(150.6 552.1) scale(0.75 1)">sty 31</text>
<text transform="translate(181.1 552.1) scale(0.75 1)">lut 10</text>
<text transform="translate(211.6 552.1) scale(0.75 1)">lut 20</text>
<text transform="translate(245.2 552.1) scale(0.75 1)">mar 03</text>
<text transform="translate(281.8 552.1) scale(0.75 1)">mar 15</text>
<text transform="translate(318.4 552.1) scale(0.75 1)">mar 27</text>
<text transform="translate(352.0 552.1) scale(0.75 1)">kwi 07</text>
<text transform="translate(385.6 552.1) scale(0.75 1)">kwi 18</text>
<text transform="translate(419.2 552.1) scale(0.75 1)">kwi 29</text>
<text transform="translate(452.7 552.1) scale(0.75 1)">maj 10</text>
<text transform="translate(486.3 552.1) scale(0.75 1)">maj 21</text>
<text transform="translate(519.9 552.1) scale(0.75 1)">cze 01</text>
<text transform="translate(553.5 552.1) scale(0.75 1)">cze 12</text>
<text transform="translate(587.0 552.1) scale(0.75 1)">cze 23</text>
<text transform="translate(617.6 552.1) scale(0.75 1)">lip 03</text>
<text transform="translate(648.1 552.1) scale(0.75 1)">lip 13</text>
<text transform="translate(678.6 552.1) scale(0.75 1)">lip 23</text>
<text transform="translate(709.1 552.1) scale(0.75 1)">sie 02</text>
<text transform="translate(739.6 552.1) scale(0.75 1)">sie 12</text>
<text transform="translate(770.2 552.1) scale(0.75 1)">sie 22</text>
<text transform="translate(803.7 552.1) scale(0.75 1)">wrz 02</text>
<text transform="translate(837.3 552.1) scale(0.75 1)">wrz 13</text>
<text transform="translate(870.9 552.1) scale(0.75 1)">wrz 24</text>
<text transform="translate(904.5 552.1) scale(0.75 1)">paź 05</text>
<text transform="translate(938.0 552.1) scale(0.75 1)">paź 16</text>
<text transform="translate(971.6 552.1) scale(0.75 1)">paź 27</text>
<text transform="translate(1002.1 552.1) scale(0.75 1)">lis 06</text>
<text transform="translate(1029.6 552.1) scale(0.75 1)">lis 15</text>
<text transform="translate(1057.1 552.1) scale(0.75 1)">lis 24</text>
<text transform="translate(1087.6 552.1) scale(0.75 1)">gru 04</text>
<text transform="translate(1121.2 552.1) scale(0.75 1)">gru 15</text>
<text transform="translate(1154.7 552.1) scale(0.75 1)">gru 26</text>
</g>
<text transform="translate(614.5 580.8) scale(1 0.89)" font-family="Liberation Sans, sans-serif" font-size="12" text-anchor="middle" fill="#000" stroke="#000" stroke-width="0.2">Data</text>
<text transform="translate(13.6 292.7) rotate(-90) scale(1 0.89)" font-family="Liberation Sans, sans-serif" font-size="12" text-anchor="middle" fill="#000" stroke="#000" stroke-width="0.2">Temperatura</text>
<g font-family="Liberation Mono, monospace" fill="#111" stroke="#fff" stroke-width="0.45">
<text x="58.7" y="19" font-size="16.6">Przebieg temperatury w roku 2025</text>
<text x="58.7" y="40.2" font-size="16.6">Region: Morze Łaptiewów</text>
<text x="1175" y="18.8" font-size="16.6" text-anchor="end">Dane: Reanaliza ERA5 (ECMWF)</text>
<text x="1159.2" y="36.8" font-size="10" text-anchor="end" fill="#333" stroke-width="0.12">Wizualizacja: Meteomodel.pl</text>
<text x="613.7" y="53.3" font-size="11.65" text-anchor="middle" fill="#222" stroke-width="0.2">Ostatnie dane: 2025-10-14 (-2°C, anomalia (1981-2010): 7.3°C)</text>
</g>
<path d="M97.3 82.40 H151.6" stroke="#000" stroke-width="2.5" stroke-linecap="round"/>
<path d="M97 96.80 H152" stroke="#0000ff" stroke-width="0.75"/>
<path d="M97 111.20 H152" stroke="#006400" stroke-width="0.75"/>
<path d="M97 125.60 H152" stroke="#ffcd00" stroke-width="0.75"/>
<path d="M97 140.00 H152" stroke="#ff0000" stroke-width="0.8"/>
<path d="M97.25 154.40 H151.9" stroke="#ff0000" stroke-width="1.5" stroke-dasharray="6 6" stroke-linecap="round"/>
<path d="M97.25 168.80 H151.9" stroke="#0000ff" stroke-width="1.5" stroke-dasharray="6 6" stroke-linecap="round"/>
<path d="M97.5 183.20 H150.4" stroke="#e6e6e6" stroke-width="5.5" stroke-linecap="round"/>
<g font-family="Liberation Sans, sans-serif" font-size="12.2" fill="#000">
<text x="162.2" y="86.7">2022</text>
<text x="162.2" y="101.1">1981-1990</text>
<text x="162.2" y="115.5">1991-2000</text>
<text x="162.2" y="129.9">2001-2010</text>
<text x="162.2" y="144.3">2011-2020</text>
<text x="162.2" y="158.7">1991-2020</text>
<text x="162.2" y="173.1">1951-1980</text>
<text x="162.2" y="187.5">max-min 1950-2021</text>
</g>
</svg>
</body></html>
